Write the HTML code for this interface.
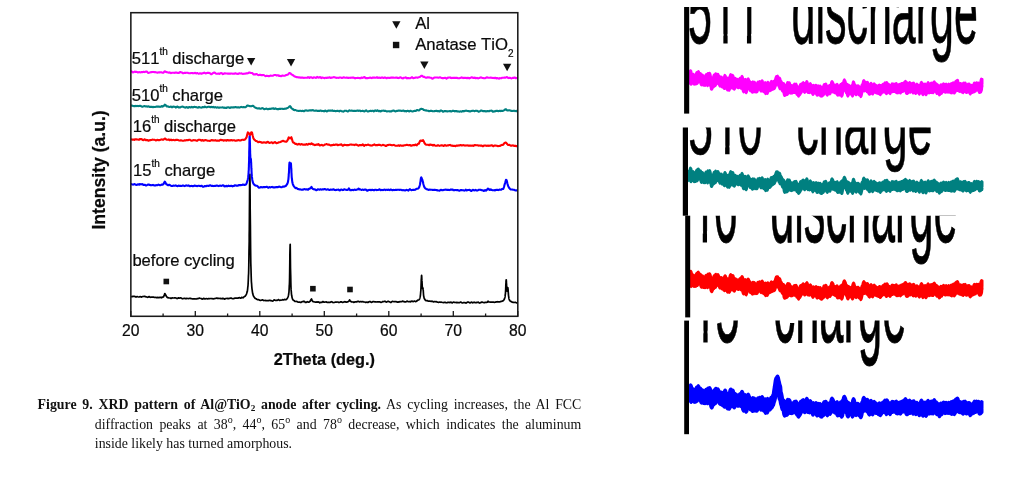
<!DOCTYPE html>
<html lang="en">
<head>
<meta charset="utf-8">
<title>Figure 9. XRD pattern of Al@TiO2 anode after cycling</title>
<style>
html,body{margin:0;padding:0;background:#fff;}
body{width:1022px;height:477px;position:relative;overflow:hidden;}
svg.chart{position:absolute;left:0;top:0;}
svg.inset{position:absolute;left:640px;top:0;}
.cap{position:absolute;left:0;top:0;margin:0;font-family:"Liberation Serif","Times New Roman",serif;font-size:13.85px;line-height:19.85px;color:#111;}
.cap span.l{position:absolute;display:block;white-space:nowrap;height:19.85px;}
.cap span.j{text-align:justify;text-align-last:justify;white-space:normal;}
.cap sup{font-size:10px;line-height:0;vertical-align:baseline;position:relative;top:-5.4px;}
.cap sub{font-size:9.2px;line-height:0;vertical-align:baseline;position:relative;top:2.2px;}
</style>
</head>
<body>
<svg class="chart" width="640" height="385" viewBox="0 0 640 385">
<clipPath id="fr"><rect x="130.85" y="12.7" width="386.94999999999993" height="303.6"/></clipPath>
<g clip-path="url(#fr)" fill="none" stroke-linejoin="round">
<path d="M130.8,296.5 L131.5,296.6 L132.2,296.6 L132.9,296.4 L133.6,296.3 L134.3,296.3 L135.0,296.5 L135.7,297.0 L136.4,296.9 L137.1,296.5 L137.8,296.8 L138.5,297.0 L139.2,296.9 L139.8,296.7 L140.5,296.7 L141.2,297.1 L141.9,296.8 L142.6,296.6 L143.3,296.5 L144.0,296.4 L144.7,296.4 L145.4,296.7 L146.1,296.8 L146.8,297.0 L147.5,297.3 L148.2,297.2 L148.8,296.7 L149.5,296.7 L150.2,297.2 L150.9,297.3 L151.6,297.1 L152.3,297.0 L153.0,297.1 L153.7,297.1 L154.4,297.5 L155.1,297.5 L155.8,297.3 L156.5,297.7 L157.2,297.6 L157.8,297.4 L158.5,297.6 L159.2,297.6 L159.9,297.3 L160.6,297.3 L161.3,297.8 L162.0,297.4 L162.7,297.1 L163.4,297.0 L164.1,295.7 L164.8,293.6 L165.5,294.5 L166.2,296.1 L166.8,296.9 L167.5,297.6 L168.2,297.7 L168.9,297.9 L169.6,298.0 L170.3,298.0 L171.0,298.4 L171.7,298.1 L172.4,297.9 L173.1,298.0 L173.8,298.0 L174.5,297.9 L175.2,297.8 L175.8,298.0 L176.5,298.3 L177.2,298.6 L177.9,298.2 L178.6,297.8 L179.3,298.2 L180.0,298.0 L180.7,297.8 L181.4,298.2 L182.1,298.6 L182.8,298.8 L183.5,298.5 L184.2,298.3 L184.8,298.3 L185.5,298.7 L186.2,298.7 L186.9,298.4 L187.6,298.5 L188.3,298.6 L189.0,298.5 L189.7,298.3 L190.4,298.4 L191.1,298.6 L191.8,298.8 L192.5,299.0 L193.1,298.8 L193.8,298.8 L194.5,298.8 L195.2,298.9 L195.9,299.0 L196.6,298.9 L197.3,298.6 L198.0,298.6 L198.7,298.5 L199.4,298.0 L200.1,298.3 L200.8,298.5 L201.5,298.6 L202.1,299.2 L202.8,299.0 L203.5,298.4 L204.2,298.6 L204.9,298.9 L205.6,298.8 L206.3,298.6 L207.0,298.8 L207.7,299.0 L208.4,298.6 L209.1,298.5 L209.8,298.7 L210.5,298.5 L211.1,298.5 L211.8,298.6 L212.5,298.7 L213.2,298.9 L213.9,298.7 L214.6,298.6 L215.3,298.5 L216.0,298.2 L216.7,298.0 L217.4,298.5 L218.1,298.3 L218.8,298.4 L219.5,298.5 L220.1,298.4 L220.8,298.6 L221.5,298.6 L222.2,298.8 L222.9,298.3 L223.6,298.5 L224.3,299.1 L225.0,298.9 L225.7,298.5 L226.4,298.5 L227.1,298.3 L227.8,298.6 L228.5,298.6 L229.1,298.4 L229.8,298.3 L230.5,298.2 L231.2,298.1 L231.9,298.5 L232.6,298.7 L233.3,298.6 L234.0,298.6 L234.7,298.2 L235.4,298.1 L236.1,298.1 L236.8,298.2 L237.5,298.2 L238.1,298.1 L238.8,297.8 L239.5,297.6 L240.2,298.2 L240.9,298.1 L241.6,297.4 L242.3,297.5 L243.0,297.8 L243.7,297.2 L244.4,296.6 L245.1,296.2 L245.8,295.2 L246.5,294.1 L247.1,292.1 L247.4,291.0 L247.5,290.2 L247.6,289.3 L247.7,288.3 L247.8,287.2 L247.8,287.1 L248.0,285.8 L248.1,284.2 L248.2,282.3 L248.3,280.0 L248.4,277.3 L248.5,274.9 L248.6,274.0 L248.7,270.0 L248.8,265.0 L248.9,258.7 L249.0,250.9 L249.2,241.2 L249.2,235.3 L249.3,229.2 L249.4,215.1 L249.5,199.8 L249.6,185.5 L249.8,175.9 L249.9,174.4 L249.9,175.7 L250.0,181.6 L250.1,194.8 L250.2,210.2 L250.4,224.9 L250.5,237.6 L250.6,248.1 L250.6,248.6 L250.7,256.5 L250.8,263.3 L251.0,268.7 L251.1,273.0 L251.2,276.6 L251.3,279.0 L251.3,279.5 L251.4,281.8 L251.6,283.8 L251.7,285.5 L251.8,286.9 L251.9,288.1 L252.0,288.8 L252.0,289.2 L252.2,290.2 L252.3,291.1 L252.7,293.6 L253.4,295.9 L254.1,297.1 L254.8,298.0 L255.4,298.5 L256.1,298.8 L256.8,299.3 L257.5,299.6 L258.2,299.6 L258.9,299.8 L259.6,300.2 L260.3,300.4 L261.0,300.3 L261.7,300.1 L262.4,299.8 L263.1,300.1 L263.8,300.6 L264.4,300.5 L265.1,300.4 L265.8,300.6 L266.5,300.7 L267.2,300.7 L267.9,300.5 L268.6,300.6 L269.3,300.4 L270.0,300.3 L270.7,300.7 L271.4,300.7 L272.1,301.0 L272.8,301.1 L273.4,300.5 L274.1,299.8 L274.8,300.2 L275.5,300.4 L276.2,300.2 L276.9,300.5 L277.6,300.2 L278.3,299.6 L279.0,300.0 L279.7,300.4 L280.4,300.2 L281.1,300.2 L281.8,300.0 L282.4,299.7 L283.1,299.8 L283.8,299.8 L284.5,299.4 L285.2,299.6 L285.9,299.7 L286.6,299.3 L287.3,298.5 L288.0,297.0 L288.1,296.6 L288.3,296.2 L288.4,295.7 L288.5,295.2 L288.6,294.5 L288.7,294.2 L288.7,293.7 L288.9,292.7 L289.0,291.5 L289.1,289.9 L289.2,287.9 L289.3,285.3 L289.4,284.6 L289.5,281.7 L289.6,276.9 L289.7,270.4 L289.8,262.1 L289.9,252.8 L290.1,245.7 L290.1,245.5 L290.2,244.3 L290.3,250.0 L290.4,259.2 L290.5,268.1 L290.7,275.3 L290.8,279.4 L290.8,280.7 L290.9,284.7 L291.0,287.7 L291.1,289.9 L291.3,291.6 L291.4,293.0 L291.4,293.6 L291.5,294.1 L291.6,295.0 L291.7,295.8 L291.9,296.5 L292.0,297.1 L292.1,297.6 L292.1,297.7 L292.8,299.7 L293.5,300.3 L294.2,300.7 L294.9,301.4 L295.6,301.5 L296.3,301.4 L297.0,301.5 L297.7,302.0 L298.4,302.2 L299.1,302.1 L299.8,302.1 L300.4,302.4 L301.1,302.4 L301.8,301.8 L302.5,301.6 L303.2,301.7 L303.9,301.2 L304.6,301.5 L305.3,302.4 L306.0,302.5 L306.7,302.0 L307.4,301.7 L308.1,302.1 L308.8,302.2 L309.4,301.8 L310.1,301.3 L310.8,300.0 L311.5,298.9 L312.2,300.7 L312.9,301.6 L313.6,301.7 L314.3,301.9 L315.0,302.0 L315.7,302.2 L316.4,302.1 L317.1,301.9 L317.7,302.2 L318.4,301.9 L319.1,302.3 L319.8,302.8 L320.5,302.4 L321.2,302.3 L321.9,302.4 L322.6,301.7 L323.3,301.7 L324.0,302.2 L324.7,302.2 L325.4,302.0 L326.1,301.9 L326.7,302.1 L327.4,302.4 L328.1,302.5 L328.8,302.2 L329.5,302.4 L330.2,302.3 L330.9,301.9 L331.6,301.7 L332.3,302.1 L333.0,302.6 L333.7,302.5 L334.4,302.4 L335.1,302.2 L335.7,302.1 L336.4,302.1 L337.1,302.0 L337.8,302.0 L338.5,302.4 L339.2,302.5 L339.9,302.2 L340.6,301.9 L341.3,301.8 L342.0,302.2 L342.7,302.5 L343.4,302.1 L344.1,302.0 L344.7,301.7 L345.4,301.8 L346.1,302.1 L346.8,302.1 L347.5,301.8 L348.2,301.7 L348.9,301.1 L349.6,299.8 L350.3,301.1 L351.0,301.6 L351.7,301.9 L352.4,302.0 L353.1,301.9 L353.7,302.4 L354.4,302.2 L355.1,301.8 L355.8,301.9 L356.5,301.9 L357.2,301.6 L357.9,301.4 L358.6,301.3 L359.3,302.0 L360.0,301.7 L360.7,301.6 L361.4,301.8 L362.1,301.7 L362.7,301.5 L363.4,302.0 L364.1,302.0 L364.8,302.0 L365.5,302.4 L366.2,302.3 L366.9,302.1 L367.6,302.4 L368.3,302.3 L369.0,301.8 L369.7,301.5 L370.4,301.6 L371.0,302.2 L371.7,302.4 L372.4,301.9 L373.1,301.5 L373.8,301.6 L374.5,301.8 L375.2,301.9 L375.9,301.9 L376.6,302.0 L377.3,301.9 L378.0,301.8 L378.7,301.9 L379.4,301.9 L380.0,301.9 L380.7,302.3 L381.4,302.3 L382.1,302.0 L382.8,301.5 L383.5,301.6 L384.2,301.5 L384.9,301.2 L385.6,301.7 L386.3,302.1 L387.0,301.9 L387.7,301.4 L388.4,301.4 L389.0,301.6 L389.7,301.8 L390.4,302.4 L391.1,302.3 L391.8,301.7 L392.5,301.4 L393.2,301.5 L393.9,301.7 L394.6,301.5 L395.3,301.6 L396.0,301.5 L396.7,301.7 L397.4,302.2 L398.0,302.2 L398.7,301.9 L399.4,301.7 L400.1,301.8 L400.8,301.6 L401.5,301.6 L402.2,301.4 L402.9,301.1 L403.6,301.6 L404.3,301.8 L405.0,301.7 L405.7,301.9 L406.4,301.5 L407.0,301.1 L407.7,301.5 L408.4,301.7 L409.1,301.6 L409.8,301.7 L410.5,301.8 L411.2,301.3 L411.9,301.1 L412.6,301.4 L413.3,301.6 L414.0,301.1 L414.7,301.2 L415.4,301.6 L416.0,301.4 L416.7,301.1 L417.4,300.5 L418.1,300.0 L418.8,299.9 L419.2,299.5 L419.3,299.4 L419.4,299.2 L419.5,299.0 L419.5,299.0 L419.7,298.6 L419.8,298.3 L419.9,297.9 L420.0,297.4 L420.1,296.8 L420.2,296.5 L420.3,296.2 L420.4,295.4 L420.5,294.5 L420.6,293.3 L420.7,291.9 L420.9,290.1 L420.9,289.6 L421.0,287.8 L421.0,287.4 L421.1,285.1 L421.1,284.7 L421.2,282.1 L421.2,281.6 L421.3,278.9 L421.4,278.5 L421.5,276.4 L421.5,276.2 L421.6,275.4 L421.6,275.4 L421.6,275.4 L421.7,276.1 L421.7,276.3 L421.8,278.2 L421.8,278.6 L421.9,280.9 L422.0,281.3 L422.1,283.5 L422.1,283.8 L422.2,285.6 L422.2,285.9 L422.3,286.9 L422.3,287.2 L422.3,287.4 L422.4,288.2 L422.4,288.3 L422.5,288.6 L422.6,288.6 L422.7,288.5 L422.7,288.5 L422.8,288.2 L422.8,288.1 L422.9,287.9 L422.9,287.9 L423.0,288.0 L423.0,288.3 L423.0,288.4 L423.1,289.4 L423.2,289.7 L423.3,291.1 L423.3,291.3 L423.4,292.8 L423.4,293.0 L423.5,294.2 L423.5,294.4 L423.6,295.5 L423.6,295.6 L423.7,295.8 L423.7,296.3 L423.8,296.5 L423.9,297.0 L423.9,297.1 L424.0,297.5 L424.0,297.6 L424.1,298.0 L424.2,298.4 L424.4,298.6 L424.4,298.6 L424.5,298.9 L424.6,299.1 L424.7,299.3 L424.8,299.5 L425.0,299.6 L425.0,299.7 L425.7,300.6 L426.4,300.5 L427.1,300.6 L427.8,300.9 L428.5,301.1 L429.2,301.2 L429.9,301.1 L430.6,301.3 L431.3,301.3 L432.0,301.2 L432.7,301.4 L433.3,301.9 L434.0,301.7 L434.7,301.6 L435.4,301.8 L436.1,301.6 L436.8,302.0 L437.5,302.1 L438.2,302.3 L438.9,302.3 L439.6,302.1 L440.3,302.3 L441.0,302.1 L441.7,302.3 L442.3,302.5 L443.0,302.5 L443.7,302.6 L444.4,302.3 L445.1,302.3 L445.8,302.6 L446.5,302.8 L447.2,302.6 L447.9,302.4 L448.6,302.3 L449.3,302.4 L450.0,302.6 L450.7,302.1 L451.3,302.3 L452.0,302.9 L452.7,302.6 L453.4,302.1 L454.1,302.3 L454.8,302.3 L455.5,302.5 L456.2,302.6 L456.9,302.4 L457.6,302.6 L458.3,302.6 L459.0,302.6 L459.7,302.6 L460.3,302.2 L461.0,302.1 L461.7,302.7 L462.4,303.0 L463.1,302.7 L463.8,302.7 L464.5,302.7 L465.2,302.7 L465.9,303.1 L466.6,302.8 L467.3,302.2 L468.0,302.2 L468.7,302.2 L469.3,302.6 L470.0,303.0 L470.7,302.6 L471.4,302.2 L472.1,302.3 L472.8,302.9 L473.5,302.4 L474.2,302.2 L474.9,302.6 L475.6,302.7 L476.3,302.7 L477.0,302.4 L477.7,302.3 L478.3,302.2 L479.0,302.7 L479.7,303.1 L480.4,302.7 L481.1,302.4 L481.8,302.1 L482.5,302.2 L483.2,302.5 L483.9,302.6 L484.6,302.6 L485.3,302.3 L486.0,302.3 L486.7,302.3 L487.3,302.2 L488.0,301.1 L488.7,301.9 L489.4,302.0 L490.1,302.1 L490.8,302.2 L491.5,302.1 L492.2,302.2 L492.9,302.1 L493.6,302.2 L494.3,302.3 L495.0,302.2 L495.6,302.1 L496.3,301.9 L497.0,301.7 L497.7,301.8 L498.4,301.8 L499.1,301.9 L499.8,301.9 L500.5,301.5 L501.2,301.4 L501.9,301.3 L502.6,300.9 L503.3,300.7 L503.8,300.0 L503.9,299.8 L504.0,299.7 L504.0,299.6 L504.2,299.4 L504.3,299.2 L504.4,299.0 L504.5,298.7 L504.6,298.3 L504.6,298.2 L504.8,297.9 L504.9,297.5 L505.0,296.9 L505.1,296.2 L505.2,295.3 L505.3,294.2 L505.4,294.1 L505.5,292.5 L505.6,290.6 L505.7,289.2 L505.7,288.3 L505.8,286.6 L505.8,285.6 L505.9,283.9 L506.0,282.9 L506.0,281.4 L506.0,281.4 L506.1,280.8 L506.1,280.0 L506.2,279.8 L506.3,280.0 L506.3,280.4 L506.4,281.4 L506.4,282.2 L506.5,283.6 L506.6,284.5 L506.6,285.9 L506.7,286.7 L506.7,287.6 L506.7,287.9 L506.8,288.5 L506.9,289.5 L506.9,289.9 L507.0,290.5 L507.0,290.8 L507.1,291.1 L507.2,291.2 L507.2,291.2 L507.3,291.1 L507.3,290.9 L507.4,290.7 L507.4,290.5 L507.5,290.1 L507.5,289.8 L507.6,289.1 L507.6,288.7 L507.7,288.2 L507.8,287.9 L507.8,287.7 L507.9,287.8 L507.9,288.2 L508.0,288.6 L508.1,289.5 L508.1,290.1 L508.1,290.1 L508.2,291.3 L508.2,291.9 L508.3,293.0 L508.4,293.6 L508.4,294.5 L508.5,295.0 L508.5,295.8 L508.6,296.1 L508.7,296.7 L508.8,297.5 L508.8,297.6 L508.9,298.2 L509.0,298.7 L509.1,299.1 L509.3,299.5 L509.4,299.8 L509.5,300.0 L509.5,300.0 L509.6,300.3 L509.7,300.5 L509.9,300.6 L510.0,300.8 L510.2,301.0 L510.9,301.4 L511.6,301.7 L512.3,302.2 L513.0,302.3 L513.6,302.3 L514.3,302.5 L515.0,302.4 L515.7,302.4 L516.4,302.9 L517.1,302.9 L517.8,302.9" stroke="#000" stroke-width="1.7"/>
<path d="M130.8,184.2 L131.5,184.1 L132.2,184.4 L132.9,184.6 L133.6,184.5 L134.3,184.1 L135.0,184.2 L135.7,184.8 L136.4,184.9 L137.1,184.8 L137.8,184.3 L138.5,184.4 L139.2,184.7 L139.8,184.0 L140.5,184.2 L141.2,184.4 L141.9,184.1 L142.6,184.3 L143.3,184.9 L144.0,184.9 L144.7,184.7 L145.4,185.2 L146.1,185.5 L146.8,185.2 L147.5,184.8 L148.2,184.6 L148.8,184.5 L149.5,184.9 L150.2,185.1 L150.9,185.1 L151.6,185.2 L152.3,185.1 L153.0,184.9 L153.7,185.2 L154.4,185.4 L155.1,185.4 L155.8,185.4 L156.5,185.1 L157.2,185.2 L157.8,185.0 L158.5,184.6 L159.2,184.9 L159.9,185.2 L160.6,185.2 L161.3,184.8 L162.0,184.5 L162.7,184.6 L163.4,184.1 L164.1,182.9 L164.8,181.6 L165.5,182.6 L166.2,184.2 L166.8,184.6 L167.5,184.8 L168.2,185.3 L168.9,184.8 L169.6,184.7 L170.3,185.4 L171.0,185.7 L171.7,185.9 L172.4,186.0 L173.1,185.8 L173.8,185.6 L174.5,185.7 L175.2,185.6 L175.8,185.4 L176.5,185.8 L177.2,186.2 L177.9,186.0 L178.6,185.6 L179.3,185.7 L180.0,186.0 L180.7,185.9 L181.4,186.0 L182.1,185.8 L182.8,185.5 L183.5,185.6 L184.2,185.9 L184.8,186.1 L185.5,185.7 L186.2,185.3 L186.9,185.7 L187.6,185.7 L188.3,185.4 L189.0,185.7 L189.7,186.2 L190.4,186.1 L191.1,185.9 L191.8,186.0 L192.5,186.1 L193.1,186.1 L193.8,186.0 L194.5,185.6 L195.2,185.8 L195.9,185.9 L196.6,186.0 L197.3,186.2 L198.0,185.8 L198.7,185.8 L199.4,185.9 L200.1,186.1 L200.8,186.0 L201.5,185.7 L202.1,186.1 L202.8,186.7 L203.5,186.8 L204.2,186.4 L204.9,186.0 L205.6,186.3 L206.3,186.2 L207.0,185.7 L207.7,185.7 L208.4,186.0 L209.1,185.8 L209.8,185.4 L210.5,185.3 L211.1,185.7 L211.8,185.9 L212.5,185.7 L213.2,185.9 L213.9,186.1 L214.6,185.9 L215.3,185.9 L216.0,185.8 L216.7,185.6 L217.4,185.6 L218.1,185.9 L218.8,186.1 L219.5,185.7 L220.1,185.6 L220.8,185.7 L221.5,185.9 L222.2,185.6 L222.9,185.3 L223.6,185.5 L224.3,186.3 L225.0,186.5 L225.7,186.0 L226.4,185.9 L227.1,186.4 L227.8,186.1 L228.5,185.6 L229.1,185.9 L229.8,186.1 L230.5,186.0 L231.2,185.7 L231.9,186.0 L232.6,186.4 L233.3,186.1 L234.0,185.9 L234.7,185.3 L235.4,185.3 L236.1,185.7 L236.8,185.6 L237.5,185.8 L238.1,185.6 L238.8,185.0 L239.5,185.1 L240.2,185.3 L240.9,185.1 L241.6,185.0 L242.3,184.9 L243.0,184.5 L243.7,184.7 L244.4,185.0 L245.1,184.7 L245.8,184.6 L246.5,183.7 L247.1,181.7 L247.4,180.8 L247.6,180.4 L247.7,179.9 L247.8,179.3 L247.8,179.2 L247.9,178.7 L248.0,178.0 L248.2,177.2 L248.3,176.2 L248.3,175.7 L248.4,175.0 L248.5,174.4 L248.5,173.5 L248.5,173.5 L248.6,172.8 L248.6,171.7 L248.7,170.8 L248.8,169.4 L248.8,168.2 L248.9,166.4 L248.9,165.0 L249.0,162.7 L249.1,160.8 L249.1,157.9 L249.2,155.6 L249.2,153.4 L249.2,152.1 L249.3,149.5 L249.4,145.7 L249.4,143.1 L249.5,139.8 L249.5,138.0 L249.6,136.3 L249.7,135.8 L249.7,136.4 L249.8,137.6 L249.8,140.0 L249.9,142.1 L249.9,142.9 L250.0,145.1 L250.0,147.3 L250.1,150.1 L250.1,151.9 L250.2,154.0 L250.3,155.3 L250.3,156.7 L250.4,157.4 L250.4,158.1 L250.5,158.4 L250.6,158.7 L250.6,158.7 L250.6,158.7 L250.7,158.7 L250.7,158.7 L250.8,158.8 L250.9,159.0 L250.9,159.5 L251.0,160.0 L251.0,161.0 L251.1,161.9 L251.2,163.4 L251.2,164.5 L251.3,166.1 L251.3,166.3 L251.3,167.2 L251.4,168.7 L251.5,169.8 L251.5,171.1 L251.6,172.1 L251.6,173.2 L251.7,174.0 L251.8,175.0 L251.8,175.6 L251.9,176.9 L252.0,177.4 L252.1,178.0 L252.2,178.9 L252.3,179.7 L252.4,180.3 L252.5,180.9 L252.7,181.4 L252.7,181.5 L252.8,181.9 L252.9,182.3 L253.0,182.7 L253.1,183.0 L253.3,183.3 L253.4,183.6 L253.4,183.6 L253.5,183.8 L254.1,184.5 L254.8,185.2 L255.4,185.6 L256.1,185.8 L256.8,185.8 L257.5,186.1 L258.2,187.0 L258.9,187.6 L259.6,187.6 L260.3,187.4 L261.0,187.0 L261.7,187.2 L262.4,187.4 L263.1,187.1 L263.8,187.0 L264.4,187.1 L265.1,187.1 L265.8,187.0 L266.5,186.9 L267.2,186.9 L267.9,187.6 L268.6,187.6 L269.3,187.1 L270.0,187.2 L270.7,187.4 L271.4,187.1 L272.1,186.9 L272.8,187.3 L273.4,187.4 L274.1,187.2 L274.8,187.5 L275.5,187.3 L276.2,187.0 L276.9,187.0 L277.6,187.3 L278.3,187.0 L279.0,186.5 L279.7,186.7 L280.4,187.0 L281.1,187.2 L281.8,187.3 L282.4,186.8 L283.1,186.6 L283.8,186.8 L284.5,186.3 L285.2,186.3 L285.9,185.9 L286.6,184.8 L286.7,184.7 L286.8,184.5 L286.9,184.4 L287.1,184.2 L287.2,184.0 L287.3,183.8 L287.3,183.8 L287.4,183.5 L287.5,183.3 L287.7,182.9 L287.8,182.5 L287.9,182.1 L288.0,181.7 L288.0,181.5 L288.1,181.0 L288.1,180.9 L288.2,180.2 L288.3,180.1 L288.4,179.3 L288.4,179.2 L288.5,178.2 L288.5,178.0 L288.6,176.9 L288.6,176.7 L288.7,176.0 L288.7,175.4 L288.7,175.1 L288.8,173.6 L288.9,173.3 L289.0,171.5 L289.0,171.1 L289.1,169.2 L289.1,168.7 L289.2,166.8 L289.2,166.4 L289.3,164.6 L289.3,164.3 L289.4,163.9 L289.4,163.1 L289.5,163.0 L289.6,162.6 L289.6,162.6 L289.7,163.1 L289.7,163.2 L289.8,164.1 L289.8,164.4 L289.9,165.4 L289.9,165.6 L290.0,166.4 L290.1,166.5 L290.1,166.5 L290.2,167.0 L290.2,167.0 L290.3,167.0 L290.3,166.9 L290.4,166.5 L290.4,166.3 L290.5,165.5 L290.5,165.3 L290.6,164.4 L290.7,164.2 L290.8,163.6 L290.8,163.5 L290.8,163.4 L290.9,163.3 L290.9,163.3 L291.0,164.0 L291.0,164.2 L291.1,165.7 L291.1,166.1 L291.2,168.0 L291.3,168.4 L291.4,170.5 L291.4,171.0 L291.4,172.3 L291.5,172.9 L291.5,173.3 L291.6,174.9 L291.6,175.3 L291.7,176.7 L291.7,176.9 L291.8,178.1 L291.9,178.3 L292.0,179.3 L292.0,179.5 L292.1,180.3 L292.1,180.4 L292.1,180.7 L292.2,181.1 L292.2,181.2 L292.3,181.8 L292.4,182.5 L292.6,183.0 L292.7,183.5 L292.8,183.9 L292.8,184.0 L292.9,184.3 L293.0,184.6 L293.2,184.9 L293.3,185.2 L293.4,185.5 L293.5,185.7 L293.5,185.7 L293.6,185.9 L294.2,186.6 L294.9,187.5 L295.6,188.1 L296.3,187.9 L297.0,188.4 L297.7,189.0 L298.4,189.1 L299.1,189.2 L299.8,189.4 L300.4,189.4 L301.1,189.6 L301.8,189.7 L302.5,189.6 L303.2,189.6 L303.9,189.2 L304.6,189.1 L305.3,189.4 L306.0,189.5 L306.7,189.2 L307.4,189.5 L308.1,189.8 L308.8,189.1 L309.4,188.6 L310.1,188.5 L310.8,187.9 L311.5,186.9 L312.2,188.2 L312.9,188.9 L313.6,189.3 L314.3,189.4 L315.0,189.4 L315.7,189.8 L316.4,190.3 L317.1,189.9 L317.7,189.3 L318.4,189.4 L319.1,189.6 L319.8,189.6 L320.5,189.3 L321.2,189.6 L321.9,189.5 L322.6,189.3 L323.3,189.4 L324.0,189.2 L324.7,189.0 L325.4,189.3 L326.1,189.7 L326.7,189.7 L327.4,189.3 L328.1,189.3 L328.8,189.8 L329.5,190.0 L330.2,189.8 L330.9,189.5 L331.6,189.7 L332.3,189.7 L333.0,189.4 L333.7,189.3 L334.4,189.9 L335.1,190.1 L335.7,190.0 L336.4,189.9 L337.1,189.8 L337.8,189.8 L338.5,189.6 L339.2,190.2 L339.9,190.4 L340.6,189.8 L341.3,189.6 L342.0,189.8 L342.7,190.1 L343.4,189.9 L344.1,189.3 L344.7,189.3 L345.4,189.7 L346.1,189.8 L346.8,190.0 L347.5,189.9 L348.2,189.5 L348.9,188.4 L349.6,189.3 L350.3,190.3 L351.0,190.3 L351.7,190.0 L352.4,189.8 L353.1,190.2 L353.7,190.0 L354.4,189.6 L355.1,189.8 L355.8,190.0 L356.5,189.8 L357.2,189.6 L357.9,189.3 L358.6,188.6 L359.3,189.5 L360.0,189.4 L360.7,189.5 L361.4,190.0 L362.1,189.8 L362.7,189.6 L363.4,189.9 L364.1,189.7 L364.8,189.6 L365.5,189.6 L366.2,189.8 L366.9,190.6 L367.6,190.7 L368.3,190.2 L369.0,189.9 L369.7,190.0 L370.4,189.9 L371.0,190.2 L371.7,189.9 L372.4,189.8 L373.1,190.1 L373.8,190.1 L374.5,190.2 L375.2,189.7 L375.9,189.8 L376.6,190.1 L377.3,190.0 L378.0,190.0 L378.7,189.8 L379.4,189.3 L380.0,189.6 L380.7,190.2 L381.4,190.0 L382.1,189.9 L382.8,190.1 L383.5,190.0 L384.2,189.6 L384.9,189.7 L385.6,190.1 L386.3,189.8 L387.0,189.8 L387.7,190.0 L388.4,189.5 L389.0,189.9 L389.7,190.1 L390.4,189.6 L391.1,189.5 L391.8,190.0 L392.5,190.3 L393.2,190.0 L393.9,189.9 L394.6,190.1 L395.3,189.9 L396.0,189.8 L396.7,190.0 L397.4,189.8 L398.0,189.7 L398.7,189.8 L399.4,189.9 L400.1,189.8 L400.8,189.7 L401.5,190.0 L402.2,190.2 L402.9,190.1 L403.6,190.3 L404.3,190.3 L405.0,190.5 L405.7,190.2 L406.4,189.9 L407.0,190.0 L407.7,190.2 L408.4,190.6 L409.1,189.8 L409.8,189.2 L410.5,189.7 L411.2,190.1 L411.9,190.1 L412.6,189.9 L413.3,189.8 L414.0,189.9 L414.7,189.7 L415.4,189.7 L416.0,189.1 L416.7,188.8 L417.4,188.8 L417.5,188.8 L417.6,188.7 L417.7,188.7 L417.8,188.6 L417.9,188.6 L418.1,188.5 L418.1,188.5 L418.2,188.4 L418.3,188.3 L418.4,188.3 L418.5,188.2 L418.7,188.1 L418.8,187.9 L418.8,187.9 L418.9,187.7 L419.0,187.5 L419.1,187.2 L419.3,186.9 L419.4,186.5 L419.5,186.1 L419.5,186.1 L419.6,185.8 L419.7,185.4 L419.9,184.9 L420.0,184.4 L420.1,183.8 L420.2,183.3 L420.2,183.1 L420.3,182.3 L420.5,181.5 L420.6,180.6 L420.7,179.6 L420.8,178.8 L420.9,178.4 L420.9,178.1 L421.1,177.6 L421.2,177.4 L421.3,177.4 L421.4,177.6 L421.5,177.9 L421.6,178.0 L421.7,178.2 L421.8,178.5 L421.9,178.8 L422.0,179.1 L422.1,179.4 L422.3,179.7 L422.3,179.7 L422.4,180.0 L422.5,180.4 L422.6,180.8 L422.7,181.3 L422.9,181.7 L423.0,182.2 L423.0,182.2 L423.1,182.8 L423.2,183.3 L423.3,183.8 L423.5,184.3 L423.6,184.8 L423.7,185.1 L423.7,185.2 L423.8,185.6 L423.9,186.0 L424.1,186.4 L424.2,186.7 L424.3,187.0 L424.4,187.1 L424.4,187.2 L424.5,187.4 L424.7,187.6 L425.0,188.0 L425.7,188.7 L426.4,189.1 L427.1,189.2 L427.8,189.5 L428.5,189.9 L429.2,189.8 L429.9,189.6 L430.6,189.7 L431.3,189.8 L432.0,189.7 L432.7,189.9 L433.3,190.0 L434.0,189.9 L434.7,189.9 L435.4,189.9 L436.1,190.1 L436.8,190.0 L437.5,190.4 L438.2,190.5 L438.9,190.5 L439.6,190.6 L440.3,190.1 L441.0,189.8 L441.7,190.1 L442.3,190.2 L443.0,190.1 L443.7,190.0 L444.4,189.7 L445.1,189.7 L445.8,189.6 L446.5,189.7 L447.2,190.0 L447.9,189.8 L448.6,189.9 L449.3,190.1 L450.0,189.9 L450.7,189.5 L451.3,189.6 L452.0,189.5 L452.7,189.5 L453.4,190.3 L454.1,190.3 L454.8,190.1 L455.5,190.0 L456.2,190.0 L456.9,190.2 L457.6,190.1 L458.3,190.3 L459.0,190.7 L459.7,190.6 L460.3,190.3 L461.0,190.0 L461.7,190.1 L462.4,190.3 L463.1,190.3 L463.8,190.4 L464.5,190.6 L465.2,190.2 L465.9,189.7 L466.6,190.4 L467.3,190.3 L468.0,190.0 L468.7,190.0 L469.3,189.9 L470.0,190.0 L470.7,190.8 L471.4,191.0 L472.1,190.3 L472.8,189.8 L473.5,190.0 L474.2,190.4 L474.9,190.3 L475.6,189.9 L476.3,190.3 L477.0,190.6 L477.7,190.4 L478.3,190.0 L479.0,189.7 L479.7,189.8 L480.4,189.7 L481.1,190.0 L481.8,190.3 L482.5,190.2 L483.2,190.7 L483.9,190.9 L484.6,190.2 L485.3,190.1 L486.0,190.6 L486.7,190.1 L487.3,189.3 L488.0,188.6 L488.7,189.0 L489.4,189.9 L490.1,189.9 L490.8,189.4 L491.5,189.9 L492.2,190.1 L492.9,190.2 L493.6,190.3 L494.3,190.2 L495.0,190.4 L495.6,189.9 L496.3,189.7 L497.0,189.9 L497.7,189.9 L498.4,190.1 L499.1,189.8 L499.8,189.5 L500.5,189.7 L501.2,189.7 L501.9,189.1 L502.6,189.0 L503.3,188.9 L504.0,187.0 L504.6,184.6 L505.3,182.3 L506.0,179.8 L506.7,180.4 L507.4,183.5 L508.1,185.9 L508.8,187.4 L509.5,188.3 L510.2,189.1 L510.9,189.5 L511.6,189.5 L512.3,189.5 L513.0,189.7 L513.6,189.8 L514.3,189.9 L515.0,190.3 L515.7,190.5 L516.4,190.4 L517.1,190.5 L517.8,190.4" stroke="#0000ff" stroke-width="2.1"/>
<path d="M130.8,139.5 L131.5,139.4 L132.2,139.6 L132.9,139.5 L133.6,139.6 L134.3,139.9 L135.0,139.4 L135.7,139.3 L136.4,139.4 L137.1,139.5 L137.8,139.5 L138.5,139.7 L139.2,139.7 L139.8,139.0 L140.5,139.1 L141.2,139.1 L141.9,139.3 L142.6,140.0 L143.3,140.1 L144.0,139.6 L144.7,139.3 L145.4,140.0 L146.1,140.3 L146.8,139.9 L147.5,140.1 L148.2,140.6 L148.8,140.7 L149.5,140.2 L150.2,140.0 L150.9,140.1 L151.6,139.9 L152.3,139.6 L153.0,139.7 L153.7,139.8 L154.4,139.8 L155.1,140.0 L155.8,140.5 L156.5,140.3 L157.2,139.8 L157.8,140.0 L158.5,140.1 L159.2,140.3 L159.9,140.1 L160.6,139.7 L161.3,139.5 L162.0,139.4 L162.7,139.7 L163.4,139.7 L164.1,139.0 L164.8,138.5 L165.5,138.8 L166.2,139.5 L166.8,139.7 L167.5,139.7 L168.2,139.6 L168.9,139.4 L169.6,140.2 L170.3,140.0 L171.0,139.6 L171.7,140.1 L172.4,140.1 L173.1,139.9 L173.8,140.0 L174.5,140.2 L175.2,140.2 L175.8,139.8 L176.5,139.8 L177.2,140.0 L177.9,139.9 L178.6,140.2 L179.3,140.4 L180.0,140.6 L180.7,140.3 L181.4,140.3 L182.1,140.7 L182.8,140.7 L183.5,140.8 L184.2,140.5 L184.8,140.2 L185.5,140.4 L186.2,140.2 L186.9,140.0 L187.6,140.2 L188.3,140.1 L189.0,139.8 L189.7,139.7 L190.4,140.1 L191.1,140.5 L191.8,140.7 L192.5,140.5 L193.1,140.2 L193.8,140.1 L194.5,140.2 L195.2,140.3 L195.9,140.4 L196.6,140.8 L197.3,140.7 L198.0,140.0 L198.7,139.8 L199.4,139.8 L200.1,139.8 L200.8,140.3 L201.5,140.6 L202.1,140.1 L202.8,140.1 L203.5,140.7 L204.2,140.5 L204.9,140.1 L205.6,140.1 L206.3,140.3 L207.0,140.5 L207.7,140.7 L208.4,140.8 L209.1,140.8 L209.8,140.9 L210.5,140.8 L211.1,140.2 L211.8,140.0 L212.5,140.4 L213.2,140.3 L213.9,140.5 L214.6,140.5 L215.3,140.1 L216.0,140.5 L216.7,140.8 L217.4,140.5 L218.1,140.6 L218.8,140.8 L219.5,140.7 L220.1,139.9 L220.8,139.7 L221.5,140.1 L222.2,140.1 L222.9,140.2 L223.6,140.7 L224.3,140.5 L225.0,140.0 L225.7,140.5 L226.4,140.7 L227.1,140.0 L227.8,140.1 L228.5,140.5 L229.1,140.3 L229.8,140.4 L230.5,140.4 L231.2,140.0 L231.9,140.2 L232.6,140.5 L233.3,140.3 L234.0,140.2 L234.7,140.3 L235.4,140.8 L236.1,140.7 L236.8,140.4 L237.5,140.5 L238.1,140.1 L238.8,140.3 L239.5,140.4 L240.2,140.5 L240.9,140.4 L241.6,139.9 L242.3,139.7 L243.0,139.8 L243.7,139.9 L244.4,139.8 L245.1,139.3 L245.8,138.5 L246.5,137.4 L247.1,135.0 L247.8,132.4 L248.5,132.7 L249.2,133.9 L249.9,134.9 L250.6,134.2 L251.3,132.2 L252.0,132.4 L252.7,135.5 L253.4,138.2 L254.1,139.4 L254.8,140.0 L255.4,140.6 L256.1,141.1 L256.8,141.3 L257.5,141.5 L258.2,142.2 L258.9,142.0 L259.6,141.8 L260.3,142.1 L261.0,142.1 L261.7,142.6 L262.4,142.5 L263.1,142.6 L263.8,142.3 L264.4,142.4 L265.1,142.6 L265.8,142.5 L266.5,142.7 L267.2,142.0 L267.9,141.8 L268.6,142.4 L269.3,142.9 L270.0,142.9 L270.7,142.6 L271.4,142.3 L272.1,142.5 L272.8,143.2 L273.4,142.9 L274.1,142.5 L274.8,142.1 L275.5,142.3 L276.2,143.2 L276.9,143.2 L277.6,142.8 L278.3,142.7 L279.0,142.2 L279.7,142.3 L280.4,142.1 L281.1,141.5 L281.8,141.4 L282.4,141.0 L283.1,140.8 L283.8,141.1 L284.5,141.5 L285.2,141.5 L285.9,141.7 L286.6,141.6 L287.3,140.7 L288.0,139.2 L288.7,137.4 L289.4,137.7 L290.1,138.5 L290.8,137.9 L291.4,137.2 L292.1,139.6 L292.8,142.0 L293.5,142.7 L294.2,142.7 L294.9,143.6 L295.6,144.0 L296.3,143.9 L297.0,144.4 L297.7,144.6 L298.4,144.0 L299.1,143.9 L299.8,144.3 L300.4,144.7 L301.1,144.3 L301.8,144.1 L302.5,144.5 L303.2,144.8 L303.9,144.6 L304.6,144.6 L305.3,144.8 L306.0,144.3 L306.7,144.1 L307.4,144.6 L308.1,144.5 L308.8,143.9 L309.4,143.8 L310.1,144.2 L310.8,144.1 L311.5,143.3 L312.2,143.9 L312.9,144.5 L313.6,144.4 L314.3,145.0 L315.0,145.1 L315.7,144.9 L316.4,144.5 L317.1,144.6 L317.7,144.7 L318.4,144.1 L319.1,144.8 L319.8,145.5 L320.5,145.3 L321.2,145.0 L321.9,144.9 L322.6,145.4 L323.3,145.5 L324.0,145.1 L324.7,144.6 L325.4,144.5 L326.1,144.3 L326.7,144.0 L327.4,144.5 L328.1,144.6 L328.8,144.6 L329.5,144.8 L330.2,145.2 L330.9,145.5 L331.6,145.1 L332.3,145.1 L333.0,145.0 L333.7,144.6 L334.4,145.0 L335.1,144.8 L335.7,144.6 L336.4,144.6 L337.1,144.6 L337.8,145.3 L338.5,145.1 L339.2,144.8 L339.9,144.8 L340.6,144.5 L341.3,144.4 L342.0,145.0 L342.7,145.7 L343.4,145.5 L344.1,144.9 L344.7,144.9 L345.4,145.0 L346.1,145.0 L346.8,145.2 L347.5,145.1 L348.2,145.1 L348.9,145.0 L349.6,144.8 L350.3,144.5 L351.0,144.5 L351.7,144.6 L352.4,144.7 L353.1,144.8 L353.7,144.8 L354.4,145.1 L355.1,144.8 L355.8,144.5 L356.5,144.6 L357.2,145.0 L357.9,145.5 L358.6,145.6 L359.3,145.1 L360.0,145.3 L360.7,145.0 L361.4,145.0 L362.1,145.2 L362.7,144.3 L363.4,145.0 L364.1,145.9 L364.8,145.2 L365.5,144.9 L366.2,145.1 L366.9,145.0 L367.6,144.8 L368.3,144.6 L369.0,145.0 L369.7,145.2 L370.4,145.4 L371.0,145.4 L371.7,145.6 L372.4,145.4 L373.1,145.0 L373.8,144.8 L374.5,144.4 L375.2,145.1 L375.9,145.2 L376.6,145.0 L377.3,145.2 L378.0,144.9 L378.7,144.8 L379.4,144.9 L380.0,144.9 L380.7,145.2 L381.4,145.4 L382.1,145.2 L382.8,144.8 L383.5,145.0 L384.2,145.2 L384.9,145.4 L385.6,145.9 L386.3,145.9 L387.0,145.3 L387.7,145.1 L388.4,145.0 L389.0,144.8 L389.7,144.8 L390.4,144.9 L391.1,145.0 L391.8,145.3 L392.5,145.3 L393.2,145.1 L393.9,144.9 L394.6,145.3 L395.3,145.7 L396.0,145.7 L396.7,145.7 L397.4,145.7 L398.0,145.5 L398.7,145.3 L399.4,145.9 L400.1,145.5 L400.8,145.2 L401.5,145.8 L402.2,145.7 L402.9,145.5 L403.6,145.6 L404.3,145.3 L405.0,145.2 L405.7,145.1 L406.4,144.9 L407.0,144.9 L407.7,145.0 L408.4,145.2 L409.1,145.3 L409.8,145.0 L410.5,145.3 L411.2,145.8 L411.9,145.5 L412.6,145.2 L413.3,145.0 L414.0,145.1 L414.7,145.2 L415.4,144.6 L416.0,144.6 L416.7,145.4 L417.4,144.6 L418.1,143.8 L418.8,143.7 L419.5,142.2 L420.2,140.7 L420.9,140.5 L421.6,140.9 L422.3,141.0 L423.0,140.1 L423.7,141.2 L424.4,142.9 L425.0,143.8 L425.7,144.5 L426.4,144.7 L427.1,144.8 L427.8,144.8 L428.5,144.9 L429.2,145.2 L429.9,144.5 L430.6,144.6 L431.3,145.0 L432.0,144.9 L432.7,145.5 L433.3,145.4 L434.0,144.8 L434.7,145.4 L435.4,145.7 L436.1,145.7 L436.8,145.8 L437.5,145.3 L438.2,145.2 L438.9,145.6 L439.6,145.9 L440.3,145.6 L441.0,145.4 L441.7,145.4 L442.3,145.3 L443.0,145.7 L443.7,145.9 L444.4,145.2 L445.1,145.1 L445.8,145.5 L446.5,145.8 L447.2,145.6 L447.9,145.3 L448.6,145.4 L449.3,145.1 L450.0,144.9 L450.7,145.4 L451.3,145.6 L452.0,145.5 L452.7,145.9 L453.4,145.9 L454.1,145.7 L454.8,146.0 L455.5,146.1 L456.2,145.6 L456.9,145.6 L457.6,145.8 L458.3,145.5 L459.0,145.4 L459.7,145.5 L460.3,145.1 L461.0,145.1 L461.7,145.5 L462.4,145.4 L463.1,145.1 L463.8,145.2 L464.5,145.5 L465.2,145.6 L465.9,145.4 L466.6,145.5 L467.3,145.5 L468.0,145.3 L468.7,145.8 L469.3,145.8 L470.0,145.4 L470.7,145.7 L471.4,145.8 L472.1,145.5 L472.8,145.6 L473.5,145.9 L474.2,145.4 L474.9,145.0 L475.6,145.3 L476.3,145.2 L477.0,145.2 L477.7,145.3 L478.3,145.6 L479.0,145.5 L479.7,145.5 L480.4,145.8 L481.1,145.6 L481.8,145.6 L482.5,146.1 L483.2,146.1 L483.9,145.6 L484.6,145.5 L485.3,145.5 L486.0,145.6 L486.7,145.9 L487.3,145.7 L488.0,145.5 L488.7,145.9 L489.4,145.8 L490.1,145.6 L490.8,145.5 L491.5,145.3 L492.2,145.4 L492.9,146.1 L493.6,146.1 L494.3,145.5 L495.0,145.5 L495.6,145.5 L496.3,145.8 L497.0,145.8 L497.7,146.1 L498.4,146.1 L499.1,145.9 L499.8,145.9 L500.5,145.7 L501.2,145.2 L501.9,144.9 L502.6,145.0 L503.3,144.6 L504.0,143.6 L504.6,143.0 L505.3,142.6 L506.0,142.5 L506.7,143.5 L507.4,144.3 L508.1,144.9 L508.8,145.0 L509.5,144.9 L510.2,145.4 L510.9,145.7 L511.6,145.6 L512.3,145.5 L513.0,145.4 L513.6,145.6 L514.3,146.0 L515.0,145.8 L515.7,145.9 L516.4,146.3 L517.1,145.9 L517.8,145.9" stroke="#ff0000" stroke-width="2.1"/>
<path d="M130.8,105.9 L131.5,105.5 L132.2,105.6 L132.9,105.9 L133.6,106.1 L134.3,106.1 L135.0,106.2 L135.7,105.9 L136.4,106.0 L137.1,106.1 L137.8,105.9 L138.5,106.1 L139.2,106.0 L139.8,105.9 L140.5,105.9 L141.2,106.2 L141.9,106.6 L142.6,106.7 L143.3,106.4 L144.0,106.1 L144.7,106.1 L145.4,106.4 L146.1,106.2 L146.8,106.4 L147.5,106.7 L148.2,106.3 L148.8,106.5 L149.5,106.9 L150.2,106.9 L150.9,106.9 L151.6,106.9 L152.3,106.9 L153.0,107.2 L153.7,106.9 L154.4,107.0 L155.1,107.0 L155.8,106.8 L156.5,106.5 L157.2,106.5 L157.8,106.8 L158.5,106.6 L159.2,106.6 L159.9,106.9 L160.6,106.8 L161.3,106.3 L162.0,106.1 L162.7,106.6 L163.4,106.2 L164.1,105.6 L164.8,104.6 L165.5,104.9 L166.2,105.9 L166.8,106.4 L167.5,106.4 L168.2,106.5 L168.9,106.9 L169.6,107.0 L170.3,106.8 L171.0,106.6 L171.7,107.3 L172.4,107.2 L173.1,106.6 L173.8,106.8 L174.5,106.7 L175.2,107.0 L175.8,107.6 L176.5,107.2 L177.2,106.5 L177.9,106.9 L178.6,107.5 L179.3,107.4 L180.0,107.5 L180.7,107.1 L181.4,106.8 L182.1,106.7 L182.8,106.5 L183.5,107.0 L184.2,107.2 L184.8,107.4 L185.5,107.6 L186.2,107.0 L186.9,107.2 L187.6,107.7 L188.3,107.6 L189.0,107.0 L189.7,107.0 L190.4,107.5 L191.1,107.3 L191.8,106.9 L192.5,107.2 L193.1,107.4 L193.8,107.0 L194.5,106.9 L195.2,107.0 L195.9,107.1 L196.6,107.3 L197.3,107.5 L198.0,107.6 L198.7,107.1 L199.4,107.0 L200.1,107.5 L200.8,107.5 L201.5,107.6 L202.1,107.4 L202.8,107.0 L203.5,107.3 L204.2,107.3 L204.9,106.6 L205.6,107.1 L206.3,107.4 L207.0,107.1 L207.7,107.0 L208.4,106.8 L209.1,106.8 L209.8,107.0 L210.5,107.3 L211.1,106.9 L211.8,107.0 L212.5,107.3 L213.2,106.9 L213.9,107.3 L214.6,107.5 L215.3,107.0 L216.0,107.5 L216.7,107.6 L217.4,107.3 L218.1,107.5 L218.8,107.8 L219.5,107.6 L220.1,107.5 L220.8,107.5 L221.5,107.5 L222.2,107.5 L222.9,107.2 L223.6,107.8 L224.3,107.9 L225.0,107.5 L225.7,108.0 L226.4,108.0 L227.1,107.4 L227.8,107.5 L228.5,107.4 L229.1,107.5 L229.8,108.0 L230.5,107.6 L231.2,107.2 L231.9,107.4 L232.6,107.5 L233.3,107.3 L234.0,107.4 L234.7,107.2 L235.4,107.0 L236.1,107.3 L236.8,107.4 L237.5,107.5 L238.1,107.3 L238.8,107.4 L239.5,107.6 L240.2,107.3 L240.9,107.1 L241.6,106.9 L242.3,107.2 L243.0,107.2 L243.7,107.0 L244.4,107.3 L245.1,107.2 L245.8,107.1 L246.5,106.4 L247.1,105.5 L247.8,105.6 L248.5,105.8 L249.2,106.0 L249.9,106.1 L250.6,106.2 L251.3,106.3 L252.0,105.9 L252.7,105.7 L253.4,106.0 L254.1,106.7 L254.8,107.3 L255.4,107.8 L256.1,107.9 L256.8,108.2 L257.5,108.4 L258.2,108.4 L258.9,108.5 L259.6,108.3 L260.3,108.8 L261.0,108.8 L261.7,108.2 L262.4,108.1 L263.1,108.4 L263.8,109.0 L264.4,109.2 L265.1,108.9 L265.8,108.7 L266.5,108.6 L267.2,109.0 L267.9,109.3 L268.6,109.0 L269.3,108.8 L270.0,109.0 L270.7,108.7 L271.4,108.6 L272.1,108.7 L272.8,108.3 L273.4,108.4 L274.1,109.0 L274.8,108.8 L275.5,108.4 L276.2,108.8 L276.9,109.1 L277.6,109.0 L278.3,109.3 L279.0,108.9 L279.7,108.8 L280.4,108.9 L281.1,108.7 L281.8,108.7 L282.4,108.7 L283.1,109.0 L283.8,109.0 L284.5,108.7 L285.2,108.6 L285.9,108.7 L286.6,108.4 L287.3,108.0 L288.0,107.8 L288.7,107.2 L289.4,106.5 L290.1,106.1 L290.8,106.9 L291.4,108.2 L292.1,108.7 L292.8,109.0 L293.5,109.8 L294.2,110.2 L294.9,109.9 L295.6,110.1 L296.3,110.4 L297.0,110.7 L297.7,110.8 L298.4,111.0 L299.1,110.9 L299.8,110.7 L300.4,110.7 L301.1,110.9 L301.8,111.1 L302.5,110.7 L303.2,111.0 L303.9,111.3 L304.6,110.8 L305.3,110.5 L306.0,110.4 L306.7,110.5 L307.4,110.8 L308.1,110.7 L308.8,110.5 L309.4,110.4 L310.1,110.2 L310.8,110.2 L311.5,110.5 L312.2,110.2 L312.9,110.1 L313.6,110.6 L314.3,110.8 L315.0,110.7 L315.7,110.6 L316.4,110.6 L317.1,110.8 L317.7,111.0 L318.4,110.9 L319.1,110.9 L319.8,110.9 L320.5,110.5 L321.2,110.7 L321.9,111.1 L322.6,110.9 L323.3,111.1 L324.0,111.4 L324.7,110.9 L325.4,110.5 L326.1,111.1 L326.7,111.5 L327.4,111.1 L328.1,110.5 L328.8,110.5 L329.5,110.7 L330.2,110.5 L330.9,110.6 L331.6,110.7 L332.3,110.4 L333.0,110.9 L333.7,111.0 L334.4,110.8 L335.1,111.0 L335.7,111.2 L336.4,111.0 L337.1,110.9 L337.8,110.8 L338.5,111.1 L339.2,111.4 L339.9,110.8 L340.6,110.7 L341.3,111.1 L342.0,111.2 L342.7,111.4 L343.4,111.6 L344.1,111.1 L344.7,110.8 L345.4,110.7 L346.1,110.7 L346.8,111.0 L347.5,111.5 L348.2,111.5 L348.9,110.5 L349.6,110.4 L350.3,110.8 L351.0,110.7 L351.7,110.5 L352.4,110.7 L353.1,110.9 L353.7,111.0 L354.4,110.7 L355.1,110.9 L355.8,111.0 L356.5,110.7 L357.2,110.6 L357.9,110.5 L358.6,110.9 L359.3,110.8 L360.0,110.6 L360.7,111.1 L361.4,111.0 L362.1,110.9 L362.7,110.8 L363.4,111.0 L364.1,111.5 L364.8,111.2 L365.5,110.6 L366.2,110.4 L366.9,111.0 L367.6,111.5 L368.3,111.4 L369.0,111.3 L369.7,111.1 L370.4,110.8 L371.0,110.9 L371.7,111.1 L372.4,110.7 L373.1,110.8 L373.8,111.4 L374.5,111.0 L375.2,110.4 L375.9,110.8 L376.6,110.9 L377.3,110.3 L378.0,110.6 L378.7,111.2 L379.4,110.9 L380.0,111.3 L380.7,111.5 L381.4,110.9 L382.1,110.8 L382.8,110.8 L383.5,110.6 L384.2,110.9 L384.9,110.9 L385.6,110.8 L386.3,111.2 L387.0,111.5 L387.7,111.3 L388.4,111.3 L389.0,111.2 L389.7,111.4 L390.4,111.3 L391.1,111.4 L391.8,111.2 L392.5,110.7 L393.2,110.6 L393.9,110.6 L394.6,111.0 L395.3,111.4 L396.0,111.2 L396.7,110.9 L397.4,110.9 L398.0,110.8 L398.7,110.6 L399.4,110.8 L400.1,110.6 L400.8,110.7 L401.5,111.0 L402.2,110.9 L402.9,110.6 L403.6,110.5 L404.3,111.1 L405.0,111.1 L405.7,111.0 L406.4,111.4 L407.0,111.0 L407.7,110.7 L408.4,110.9 L409.1,111.5 L409.8,111.1 L410.5,110.7 L411.2,111.1 L411.9,111.2 L412.6,111.4 L413.3,111.2 L414.0,110.9 L414.7,110.7 L415.4,111.0 L416.0,111.0 L416.7,110.0 L417.4,110.0 L418.1,110.3 L418.8,110.5 L419.5,110.1 L420.2,109.2 L420.9,108.9 L421.6,108.9 L422.3,109.0 L423.0,109.3 L423.7,109.9 L424.4,110.1 L425.0,110.2 L425.7,110.5 L426.4,110.4 L427.1,110.8 L427.8,110.8 L428.5,110.8 L429.2,111.3 L429.9,111.1 L430.6,110.8 L431.3,110.8 L432.0,111.0 L432.7,111.3 L433.3,111.2 L434.0,111.3 L434.7,111.1 L435.4,111.0 L436.1,110.8 L436.8,110.9 L437.5,111.3 L438.2,111.0 L438.9,111.2 L439.6,111.5 L440.3,110.6 L441.0,110.5 L441.7,110.8 L442.3,111.0 L443.0,111.8 L443.7,111.5 L444.4,111.0 L445.1,111.1 L445.8,111.1 L446.5,111.3 L447.2,111.5 L447.9,111.2 L448.6,111.2 L449.3,111.3 L450.0,111.0 L450.7,111.4 L451.3,111.5 L452.0,111.1 L452.7,110.8 L453.4,110.9 L454.1,111.0 L454.8,111.4 L455.5,111.1 L456.2,111.0 L456.9,111.4 L457.6,111.4 L458.3,111.4 L459.0,111.6 L459.7,111.6 L460.3,111.4 L461.0,111.5 L461.7,111.6 L462.4,111.1 L463.1,111.0 L463.8,111.4 L464.5,111.0 L465.2,110.9 L465.9,110.6 L466.6,110.7 L467.3,110.9 L468.0,111.1 L468.7,111.0 L469.3,111.2 L470.0,111.5 L470.7,111.2 L471.4,111.0 L472.1,110.9 L472.8,110.8 L473.5,110.8 L474.2,111.1 L474.9,111.1 L475.6,110.8 L476.3,110.8 L477.0,110.9 L477.7,111.0 L478.3,111.6 L479.0,111.7 L479.7,111.3 L480.4,110.8 L481.1,110.6 L481.8,110.5 L482.5,111.0 L483.2,111.2 L483.9,111.0 L484.6,111.1 L485.3,111.1 L486.0,111.5 L486.7,111.3 L487.3,111.0 L488.0,111.0 L488.7,111.2 L489.4,111.2 L490.1,110.7 L490.8,110.7 L491.5,110.6 L492.2,111.0 L492.9,111.8 L493.6,111.5 L494.3,111.2 L495.0,111.4 L495.6,111.0 L496.3,110.8 L497.0,111.0 L497.7,110.9 L498.4,111.3 L499.1,111.1 L499.8,110.7 L500.5,111.1 L501.2,110.8 L501.9,110.7 L502.6,110.9 L503.3,110.7 L504.0,110.3 L504.6,110.1 L505.3,109.2 L506.0,109.2 L506.7,110.2 L507.4,110.4 L508.1,110.5 L508.8,110.3 L509.5,110.3 L510.2,110.6 L510.9,110.6 L511.6,111.0 L512.3,111.0 L513.0,110.9 L513.6,110.7 L514.3,110.7 L515.0,111.1 L515.7,111.0 L516.4,110.9 L517.1,111.4 L517.8,111.4" stroke="#008080" stroke-width="2.1"/>
<path d="M130.8,71.5 L131.5,71.3 L132.2,71.8 L132.9,72.4 L133.6,72.3 L134.3,71.7 L135.0,71.6 L135.7,72.0 L136.4,71.9 L137.1,72.0 L137.8,72.5 L138.5,72.2 L139.2,72.1 L139.8,72.2 L140.5,72.4 L141.2,72.1 L141.9,72.0 L142.6,72.2 L143.3,71.8 L144.0,71.9 L144.7,72.1 L145.4,71.8 L146.1,71.6 L146.8,71.6 L147.5,72.3 L148.2,72.9 L148.8,72.7 L149.5,72.6 L150.2,72.4 L150.9,72.1 L151.6,72.3 L152.3,72.1 L153.0,71.9 L153.7,72.1 L154.4,72.3 L155.1,72.1 L155.8,72.2 L156.5,72.4 L157.2,72.6 L157.8,72.6 L158.5,72.4 L159.2,72.4 L159.9,72.4 L160.6,72.3 L161.3,72.2 L162.0,72.5 L162.7,72.7 L163.4,72.7 L164.1,71.9 L164.8,71.3 L165.5,71.6 L166.2,72.1 L166.8,72.3 L167.5,72.3 L168.2,72.6 L168.9,72.8 L169.6,72.4 L170.3,72.7 L171.0,73.2 L171.7,72.8 L172.4,72.8 L173.1,72.7 L173.8,72.8 L174.5,72.9 L175.2,72.6 L175.8,72.5 L176.5,72.6 L177.2,72.7 L177.9,72.9 L178.6,72.9 L179.3,72.7 L180.0,72.0 L180.7,72.1 L181.4,72.5 L182.1,72.5 L182.8,73.2 L183.5,73.2 L184.2,72.9 L184.8,72.8 L185.5,72.9 L186.2,72.8 L186.9,72.7 L187.6,72.7 L188.3,73.0 L189.0,73.2 L189.7,73.2 L190.4,73.2 L191.1,73.0 L191.8,73.0 L192.5,73.1 L193.1,73.3 L193.8,73.3 L194.5,73.0 L195.2,72.8 L195.9,73.3 L196.6,73.4 L197.3,73.0 L198.0,73.4 L198.7,73.7 L199.4,73.5 L200.1,73.2 L200.8,73.6 L201.5,73.8 L202.1,73.4 L202.8,73.3 L203.5,72.9 L204.2,72.6 L204.9,73.0 L205.6,73.4 L206.3,73.3 L207.0,73.0 L207.7,72.7 L208.4,72.9 L209.1,72.9 L209.8,73.2 L210.5,73.7 L211.1,74.2 L211.8,74.1 L212.5,73.4 L213.2,73.0 L213.9,72.5 L214.6,72.5 L215.3,73.2 L216.0,73.6 L216.7,73.7 L217.4,73.7 L218.1,73.6 L218.8,73.6 L219.5,73.9 L220.1,73.5 L220.8,73.1 L221.5,73.1 L222.2,73.5 L222.9,74.1 L223.6,73.9 L224.3,73.4 L225.0,73.3 L225.7,73.5 L226.4,73.5 L227.1,73.5 L227.8,73.6 L228.5,73.6 L229.1,73.6 L229.8,73.8 L230.5,73.6 L231.2,73.5 L231.9,73.5 L232.6,73.7 L233.3,73.7 L234.0,73.6 L234.7,73.6 L235.4,73.3 L236.1,73.6 L236.8,73.7 L237.5,73.7 L238.1,74.0 L238.8,73.5 L239.5,73.3 L240.2,73.5 L240.9,73.5 L241.6,73.4 L242.3,73.7 L243.0,73.9 L243.7,73.8 L244.4,73.7 L245.1,73.6 L245.8,73.5 L246.5,73.3 L247.1,73.4 L247.8,73.3 L248.5,72.9 L249.2,72.5 L249.9,72.6 L250.6,72.9 L251.3,73.0 L252.0,73.0 L252.7,73.4 L253.4,74.4 L254.1,74.4 L254.8,74.2 L255.4,74.5 L256.1,74.0 L256.8,74.1 L257.5,74.6 L258.2,75.0 L258.9,75.1 L259.6,74.8 L260.3,74.8 L261.0,75.1 L261.7,75.1 L262.4,75.1 L263.1,75.0 L263.8,75.0 L264.4,75.5 L265.1,76.0 L265.8,76.1 L266.5,75.7 L267.2,75.9 L267.9,76.0 L268.6,76.1 L269.3,76.2 L270.0,75.8 L270.7,75.6 L271.4,75.7 L272.1,75.7 L272.8,75.7 L273.4,75.5 L274.1,75.0 L274.8,75.0 L275.5,75.0 L276.2,75.2 L276.9,75.6 L277.6,75.2 L278.3,75.3 L279.0,75.9 L279.7,75.7 L280.4,75.9 L281.1,76.3 L281.8,75.7 L282.4,75.5 L283.1,75.8 L283.8,75.7 L284.5,75.8 L285.2,75.5 L285.9,75.1 L286.6,75.0 L287.3,74.7 L288.0,74.5 L288.7,73.8 L289.4,73.0 L290.1,73.2 L290.8,73.7 L291.4,74.4 L292.1,74.7 L292.8,75.0 L293.5,75.7 L294.2,76.2 L294.9,76.5 L295.6,76.8 L296.3,77.1 L297.0,77.1 L297.7,77.2 L298.4,77.4 L299.1,77.4 L299.8,77.5 L300.4,77.8 L301.1,77.6 L301.8,77.5 L302.5,77.6 L303.2,77.8 L303.9,77.9 L304.6,77.8 L305.3,77.8 L306.0,77.8 L306.7,77.8 L307.4,77.8 L308.1,77.1 L308.8,77.4 L309.4,77.9 L310.1,77.4 L310.8,77.3 L311.5,77.4 L312.2,77.8 L312.9,78.1 L313.6,77.4 L314.3,77.4 L315.0,77.6 L315.7,77.9 L316.4,77.8 L317.1,76.9 L317.7,77.2 L318.4,77.6 L319.1,77.5 L319.8,77.1 L320.5,77.3 L321.2,78.1 L321.9,77.6 L322.6,77.5 L323.3,77.8 L324.0,78.0 L324.7,78.2 L325.4,77.7 L326.1,77.8 L326.7,78.0 L327.4,77.6 L328.1,77.7 L328.8,77.7 L329.5,77.2 L330.2,77.7 L330.9,78.0 L331.6,77.5 L332.3,77.6 L333.0,77.4 L333.7,77.1 L334.4,77.3 L335.1,77.5 L335.7,77.6 L336.4,77.9 L337.1,77.8 L337.8,77.7 L338.5,77.9 L339.2,77.6 L339.9,77.5 L340.6,77.5 L341.3,77.7 L342.0,78.0 L342.7,77.8 L343.4,77.4 L344.1,77.4 L344.7,77.6 L345.4,77.7 L346.1,77.8 L346.8,77.5 L347.5,77.7 L348.2,78.0 L348.9,77.7 L349.6,77.8 L350.3,77.9 L351.0,77.6 L351.7,77.7 L352.4,77.6 L353.1,77.5 L353.7,77.6 L354.4,78.0 L355.1,78.4 L355.8,78.0 L356.5,78.0 L357.2,78.0 L357.9,77.8 L358.6,78.0 L359.3,78.0 L360.0,78.3 L360.7,78.3 L361.4,77.5 L362.1,77.8 L362.7,77.9 L363.4,77.6 L364.1,77.0 L364.8,77.3 L365.5,78.1 L366.2,78.1 L366.9,78.1 L367.6,78.3 L368.3,78.1 L369.0,77.9 L369.7,77.8 L370.4,77.5 L371.0,77.9 L371.7,78.1 L372.4,77.6 L373.1,77.6 L373.8,77.8 L374.5,77.5 L375.2,77.7 L375.9,77.8 L376.6,77.3 L377.3,77.2 L378.0,77.9 L378.7,77.8 L379.4,77.5 L380.0,77.9 L380.7,78.0 L381.4,77.6 L382.1,77.4 L382.8,77.7 L383.5,78.0 L384.2,77.8 L384.9,77.4 L385.6,77.7 L386.3,78.2 L387.0,78.1 L387.7,77.7 L388.4,77.7 L389.0,77.9 L389.7,78.0 L390.4,77.7 L391.1,77.5 L391.8,77.8 L392.5,77.5 L393.2,77.6 L393.9,77.8 L394.6,77.7 L395.3,77.8 L396.0,77.6 L396.7,77.5 L397.4,77.9 L398.0,77.9 L398.7,78.1 L399.4,77.8 L400.1,77.2 L400.8,77.5 L401.5,77.9 L402.2,78.3 L402.9,78.4 L403.6,77.7 L404.3,77.8 L405.0,77.8 L405.7,77.3 L406.4,78.0 L407.0,78.4 L407.7,78.0 L408.4,78.0 L409.1,78.3 L409.8,78.2 L410.5,78.1 L411.2,77.8 L411.9,77.2 L412.6,77.7 L413.3,78.3 L414.0,78.1 L414.7,77.8 L415.4,77.7 L416.0,77.4 L416.7,77.6 L417.4,77.8 L418.1,77.4 L418.8,77.2 L419.5,77.0 L420.2,76.7 L420.9,76.2 L421.6,75.7 L422.3,75.7 L423.0,76.8 L423.7,76.9 L424.4,76.8 L425.0,77.3 L425.7,77.7 L426.4,77.8 L427.1,77.3 L427.8,77.4 L428.5,77.5 L429.2,77.3 L429.9,77.7 L430.6,77.8 L431.3,77.9 L432.0,78.6 L432.7,78.6 L433.3,78.1 L434.0,77.8 L434.7,77.5 L435.4,77.5 L436.1,77.5 L436.8,77.5 L437.5,77.5 L438.2,77.7 L438.9,77.6 L439.6,77.4 L440.3,77.3 L441.0,77.7 L441.7,78.0 L442.3,78.1 L443.0,78.3 L443.7,78.0 L444.4,78.0 L445.1,77.7 L445.8,78.1 L446.5,78.6 L447.2,78.1 L447.9,77.6 L448.6,77.8 L449.3,77.6 L450.0,77.4 L450.7,77.9 L451.3,78.1 L452.0,77.8 L452.7,78.0 L453.4,77.9 L454.1,77.8 L454.8,77.9 L455.5,77.7 L456.2,77.9 L456.9,77.8 L457.6,78.1 L458.3,78.2 L459.0,78.2 L459.7,78.1 L460.3,77.9 L461.0,77.8 L461.7,77.4 L462.4,77.7 L463.1,78.1 L463.8,77.8 L464.5,77.9 L465.2,78.0 L465.9,77.8 L466.6,78.1 L467.3,78.2 L468.0,77.7 L468.7,77.9 L469.3,78.4 L470.0,78.0 L470.7,77.7 L471.4,77.4 L472.1,77.3 L472.8,77.8 L473.5,78.0 L474.2,77.7 L474.9,77.6 L475.6,78.2 L476.3,78.2 L477.0,77.8 L477.7,78.2 L478.3,78.4 L479.0,78.1 L479.7,77.9 L480.4,77.5 L481.1,77.4 L481.8,77.7 L482.5,77.9 L483.2,78.0 L483.9,78.2 L484.6,78.2 L485.3,78.1 L486.0,77.8 L486.7,77.3 L487.3,77.4 L488.0,77.7 L488.7,77.7 L489.4,77.8 L490.1,77.7 L490.8,77.5 L491.5,77.8 L492.2,78.0 L492.9,77.9 L493.6,78.0 L494.3,78.1 L495.0,77.7 L495.6,77.8 L496.3,78.4 L497.0,78.2 L497.7,78.1 L498.4,78.5 L499.1,78.6 L499.8,78.1 L500.5,78.2 L501.2,78.3 L501.9,77.8 L502.6,77.7 L503.3,77.8 L504.0,77.8 L504.6,77.5 L505.3,77.7 L506.0,77.5 L506.7,77.0 L507.4,77.4 L508.1,77.9 L508.8,78.1 L509.5,77.8 L510.2,77.8 L510.9,78.2 L511.6,78.4 L512.3,78.1 L513.0,77.8 L513.6,78.0 L514.3,77.6 L515.0,77.5 L515.7,78.1 L516.4,78.2 L517.1,77.8 L517.8,78.1" stroke="#ff00ff" stroke-width="2.1"/>
</g>
<rect x="130.85" y="12.7" width="386.94999999999993" height="303.6" fill="none" stroke="#1a1a1a" stroke-width="1.55"/>
<path d="M130.8,316.3 v-5.3 M163.1,316.3 v-2.8 M195.3,316.3 v-5.3 M227.6,316.3 v-2.8 M259.8,316.3 v-5.3 M292.1,316.3 v-2.8 M324.3,316.3 v-5.3 M356.6,316.3 v-2.8 M388.8,316.3 v-5.3 M421.1,316.3 v-2.8 M453.3,316.3 v-5.3 M485.6,316.3 v-2.8 M517.8,316.3 v-5.3" stroke="#1a1a1a" stroke-width="1.3" fill="none"/>
<g font-family="'Liberation Sans', Arial, sans-serif" fill="#0a0a0a" stroke="#0a0a0a" stroke-width="0.22" style="font-kerning:none">
<text x="130.8" y="335.6" font-size="15.7" text-anchor="middle">20</text>
<text x="195.3" y="335.6" font-size="15.7" text-anchor="middle">30</text>
<text x="259.8" y="335.6" font-size="15.7" text-anchor="middle">40</text>
<text x="324.3" y="335.6" font-size="15.7" text-anchor="middle">50</text>
<text x="388.8" y="335.6" font-size="15.7" text-anchor="middle">60</text>
<text x="453.3" y="335.6" font-size="15.7" text-anchor="middle">70</text>
<text x="517.8" y="335.6" font-size="15.7" text-anchor="middle">80</text>
<text x="324.3" y="364.5" font-size="16.3" font-weight="bold" text-anchor="middle">2Theta (deg.)</text>
<text transform="translate(105.3,169.9) rotate(-90)" font-size="17.6" font-weight="bold" text-anchor="middle">Intensity (a.u.)</text>
<text x="131.7" y="64.4" font-size="16.6">511<tspan font-size="10" dy="-9.1">th</tspan><tspan dy="9.1"> discharge</tspan></text>
<text x="131.7" y="100.6" font-size="16.6">510<tspan font-size="10" dy="-9.1">th</tspan><tspan dy="9.1"> charge</tspan></text>
<text x="132.7" y="132.0" font-size="16.6">16<tspan font-size="10" dy="-9.1">th</tspan><tspan dy="9.1"> discharge</tspan></text>
<text x="133.0" y="176.2" font-size="16.6">15<tspan font-size="10" dy="-9.1">th</tspan><tspan dy="9.1"> charge</tspan></text>
<text x="132.4" y="265.7" font-size="16.6">before cycling</text>
<text x="415.2" y="28.8" font-size="16.7">Al</text>
<text x="415.2" y="49.6" font-size="16.7">Anatase TiO<tspan font-size="10" dy="7.3">2</tspan></text>
</g>
<path d="M392.2,21.2 h8.3 l-4.15,7.6 z" fill="#111"/>
<rect x="392.9" y="41.8" width="6.4" height="6.4" fill="#111"/>
<path d="M247.0,57.9 h8.3 l-4.15,7.6 z" fill="#111"/>
<path d="M286.9,58.9 h8.3 l-4.15,7.6 z" fill="#111"/>
<path d="M420.2,61.4 h8.3 l-4.15,7.6 z" fill="#111"/>
<path d="M503.0,63.7 h8.3 l-4.15,7.6 z" fill="#111"/>
<rect x="163.5" y="278.7" width="5.6" height="5.6" fill="#111"/>
<rect x="310.1" y="285.9" width="5.6" height="5.6" fill="#111"/>
<rect x="347.2" y="286.7" width="5.6" height="5.6" fill="#111"/>
</svg>
<svg class="inset" width="382" height="477" viewBox="640 0 382 477">
<clipPath id="bc"><rect x="686.4" y="0" width="297.1" height="477"/></clipPath>
<clipPath id="c1"><rect x="640" y="7.0" width="382" height="106.6"/></clipPath>
<g clip-path="url(#c1)"><g><text transform="translate(0,43.0) scale(1,2.17)" font-family="'Liberation Sans', Arial, sans-serif" font-size="43.0" fill="#000" stroke="#000" stroke-width="0.35" style="font-kerning:none"><tspan x="688.00 712.85 736.45">511</tspan><tspan x="760.4" font-size="25.8" dy="-23.7">th</tspan><tspan x="779.546" dy="23.7"> discharge</tspan></text></g>
<rect x="714.88" y="33.9" width="8.47" height="13.1" fill="#fff"/>
<rect x="727.61" y="33.9" width="8.11" height="13.1" fill="#fff"/>
<rect x="738.48" y="33.9" width="8.47" height="13.1" fill="#fff"/>
<rect x="751.21" y="33.9" width="8.11" height="13.1" fill="#fff"/>
</g>
<g clip-path="url(#bc)"><path transform="translate(686.0,78.0) scale(2.57,5.5)" d="M0.0,0.05 L0.2,0.53 L0.4,0.51 L0.6,-0.11 L0.8,-0.08 L1.0,-0.16 L1.2,0.31 L1.4,0.04 L1.6,0.27 L1.8,-0.74 L2.0,0.57 L2.2,-0.13 L2.4,0.20 L2.6,0.01 L2.8,-0.12 L3.0,0.32 L3.2,0.57 L3.4,0.13 L3.6,0.10 L3.8,0.53 L4.0,-0.17 L4.2,-0.41 L4.4,0.40 L4.6,-0.09 L4.8,-0.60 L5.0,-0.03 L5.2,0.07 L5.4,-0.17 L5.6,-0.23 L5.8,0.35 L6.0,0.69 L6.2,0.28 L6.4,0.03 L6.6,0.56 L6.8,0.75 L7.0,0.33 L7.2,0.63 L7.4,0.78 L7.6,0.27 L7.8,-0.04 L8.0,0.42 L8.2,0.40 L8.4,0.81 L8.6,-0.24 L8.8,0.12 L9.0,0.02 L9.2,-0.29 L9.4,0.53 L9.6,0.89 L9.8,0.44 L10.0,1.47 L10.2,1.27 L10.4,1.11 L10.6,0.85 L10.8,1.00 L11.0,0.05 L11.2,0.81 L11.4,0.81 L11.6,-0.19 L11.8,0.56 L12.0,0.15 L12.2,0.39 L12.4,-0.12 L12.6,0.13 L12.8,0.51 L13.0,0.28 L13.2,0.90 L13.4,0.54 L13.6,0.77 L13.8,0.38 L14.0,1.04 L14.2,0.95 L14.4,0.76 L14.6,1.12 L14.8,1.29 L15.0,1.34 L15.2,0.09 L15.4,1.01 L15.6,0.84 L15.8,0.80 L16.0,0.59 L16.2,1.60 L16.4,0.85 L16.6,1.58 L16.8,1.66 L17.0,0.44 L17.2,0.58 L17.4,-0.07 L17.6,0.34 L17.8,0.91 L18.0,1.27 L18.2,0.10 L18.4,0.63 L18.6,1.21 L18.8,1.47 L19.0,1.05 L19.2,0.64 L19.4,1.08 L19.6,0.93 L19.8,0.99 L20.0,0.81 L20.2,1.20 L20.4,1.21 L20.6,1.17 L20.8,1.06 L21.0,0.63 L21.2,0.86 L21.4,1.27 L21.6,0.63 L21.8,0.28 L22.0,1.42 L22.2,1.28 L22.4,1.95 L22.6,1.30 L22.8,1.12 L23.0,0.81 L23.2,1.74 L23.4,2.12 L23.6,0.96 L23.8,0.87 L24.0,1.13 L24.2,0.72 L24.4,1.03 L24.6,1.06 L24.8,1.38 L25.0,1.74 L25.2,1.37 L25.4,1.82 L25.6,1.62 L25.8,2.02 L26.0,1.28 L26.2,1.38 L26.4,1.95 L26.6,1.33 L26.8,1.64 L27.0,1.70 L27.2,1.95 L27.4,1.81 L27.6,1.95 L27.8,1.61 L28.0,1.32 L28.2,1.35 L28.4,1.41 L28.6,1.20 L28.8,1.41 L29.0,1.65 L29.2,1.79 L29.4,1.56 L29.6,1.08 L29.8,1.67 L30.0,1.71 L30.2,1.93 L30.4,1.88 L30.6,1.49 L30.8,1.41 L31.0,2.27 L31.2,1.90 L31.4,2.17 L31.6,2.21 L31.8,1.34 L32.0,1.73 L32.2,1.73 L32.4,1.76 L32.6,1.75 L32.8,1.68 L33.0,1.65 L33.2,1.18 L33.4,1.53 L33.6,1.30 L33.8,1.49 L34.0,1.22 L34.2,1.39 L34.4,1.32 L34.6,1.03 L34.8,0.87 L35.0,0.63 L35.2,0.30 L35.4,0.37 L35.6,0.26 L35.8,0.56 L36.0,0.60 L36.2,0.99 L36.4,0.58 L36.6,1.39 L36.8,1.07 L37.0,1.19 L37.2,1.50 L37.4,1.46 L37.6,1.84 L37.8,1.68 L38.0,1.60 L38.2,1.78 L38.4,2.62 L38.6,2.49 L38.8,2.29 L39.0,2.49 L39.2,1.78 L39.4,2.43 L39.6,1.39 L39.8,1.86 L40.0,1.91 L40.2,1.43 L40.4,1.87 L40.6,2.17 L40.8,2.06 L41.0,1.95 L41.2,2.19 L41.4,2.10 L41.6,2.02 L41.8,1.88 L42.0,2.08 L42.2,1.68 L42.4,2.07 L42.6,1.76 L42.8,1.67 L43.0,2.12 L43.2,2.42 L43.4,2.37 L43.6,2.19 L43.8,2.74 L44.0,2.50 L44.2,2.52 L44.4,2.37 L44.6,1.70 L44.8,2.09 L45.0,1.72 L45.2,1.71 L45.4,1.49 L45.6,1.42 L45.8,1.59 L46.0,1.94 L46.2,2.06 L46.4,1.52 L46.6,1.69 L46.8,1.47 L47.0,1.22 L47.2,1.90 L47.4,2.03 L47.6,1.79 L47.8,1.94 L48.0,2.09 L48.2,1.72 L48.4,1.59 L48.6,2.02 L48.8,2.05 L49.0,1.96 L49.2,2.25 L49.4,2.44 L49.6,1.90 L49.8,2.13 L50.0,2.14 L50.2,2.11 L50.4,2.22 L50.6,1.89 L50.8,2.20 L51.0,2.56 L51.2,2.35 L51.4,1.98 L51.6,2.29 L51.8,2.50 L52.0,2.29 L52.2,2.04 L52.4,2.69 L52.6,2.22 L52.8,2.74 L53.0,2.64 L53.2,2.22 L53.4,2.54 L53.6,2.18 L53.8,1.74 L54.0,2.10 L54.2,1.91 L54.4,1.67 L54.6,2.08 L54.8,2.44 L55.0,2.53 L55.2,2.30 L55.4,2.10 L55.6,2.13 L55.8,1.93 L56.0,2.31 L56.2,1.98 L56.4,1.93 L56.6,1.77 L56.8,1.21 L57.0,1.30 L57.2,1.96 L57.4,1.88 L57.6,1.87 L57.8,2.09 L58.0,1.86 L58.2,2.15 L58.4,1.88 L58.6,2.13 L58.8,1.73 L59.0,2.56 L59.2,2.21 L59.4,2.12 L59.6,2.50 L59.8,2.30 L60.0,2.25 L60.2,1.76 L60.4,2.07 L60.6,2.75 L60.8,1.57 L61.0,1.90 L61.2,1.70 L61.4,1.60 L61.6,0.92 L61.8,1.06 L62.0,1.54 L62.2,1.56 L62.4,2.15 L62.6,1.69 L62.8,1.94 L63.0,2.72 L63.2,1.86 L63.4,1.92 L63.6,2.20 L63.8,2.18 L64.0,2.34 L64.2,2.29 L64.4,1.99 L64.6,2.16 L64.8,2.72 L65.0,2.33 L65.2,1.28 L65.4,1.91 L65.6,1.76 L65.8,2.13 L66.0,1.95 L66.2,2.48 L66.4,2.21 L66.6,2.22 L66.8,1.99 L67.0,2.00 L67.2,2.10 L67.4,2.53 L67.6,2.52 L67.8,2.47 L68.0,2.81 L68.2,2.39 L68.4,2.11 L68.6,1.75 L68.8,1.72 L69.0,1.67 L69.2,1.05 L69.4,1.78 L69.6,1.51 L69.8,1.31 L70.0,1.72 L70.2,1.77 L70.4,1.92 L70.6,1.36 L70.8,1.91 L71.0,2.03 L71.2,2.30 L71.4,2.39 L71.6,2.27 L71.8,1.69 L72.0,1.52 L72.2,2.18 L72.4,2.09 L72.6,2.35 L72.8,2.00 L73.0,2.04 L73.2,1.63 L73.4,2.03 L73.6,1.79 L73.8,2.04 L74.0,2.13 L74.2,2.00 L74.4,2.16 L74.6,2.07 L74.8,2.27 L75.0,2.18 L75.2,1.87 L75.4,1.88 L75.6,2.46 L75.8,1.96 L76.0,2.25 L76.2,2.10 L76.4,1.84 L76.6,1.73 L76.8,1.96 L77.0,1.92 L77.2,1.98 L77.4,1.44 L77.6,1.72 L77.8,1.84 L78.0,2.29 L78.2,1.40 L78.4,2.13 L78.6,1.84 L78.8,2.03 L79.0,1.81 L79.2,1.96 L79.4,2.27 L79.6,1.97 L79.8,1.99 L80.0,1.90 L80.2,1.61 L80.4,1.93 L80.6,1.75 L80.8,1.67 L81.0,1.85 L81.2,1.74 L81.4,1.93 L81.6,1.71 L81.8,1.56 L82.0,2.12 L82.2,2.09 L82.4,2.14 L82.6,1.96 L82.8,1.81 L83.0,1.72 L83.2,1.76 L83.4,2.17 L83.6,1.99 L83.8,1.60 L84.0,1.91 L84.2,1.57 L84.4,1.87 L84.6,1.52 L84.8,1.41 L85.0,1.68 L85.2,1.60 L85.4,1.17 L85.6,1.72 L85.8,2.24 L86.0,1.43 L86.2,2.24 L86.4,1.65 L86.6,1.76 L86.8,1.81 L87.0,1.38 L87.2,2.03 L87.4,1.92 L87.6,1.67 L87.8,1.76 L88.0,1.55 L88.2,1.93 L88.4,2.17 L88.6,1.48 L88.8,1.77 L89.0,1.96 L89.2,2.10 L89.4,2.24 L89.6,1.83 L89.8,1.71 L90.0,2.00 L90.2,1.86 L90.4,1.89 L90.6,2.22 L90.8,2.37 L91.0,1.94 L91.2,1.77 L91.4,1.92 L91.6,1.36 L91.8,1.80 L92.0,1.60 L92.2,2.47 L92.4,2.11 L92.6,2.07 L92.8,2.15 L93.0,1.66 L93.2,2.38 L93.4,2.48 L93.6,1.78 L93.8,2.07 L94.0,2.04 L94.2,1.40 L94.4,2.01 L94.6,2.13 L94.8,1.87 L95.0,1.80 L95.2,2.07 L95.4,1.50 L95.6,1.90 L95.8,2.09 L96.0,1.48 L96.2,2.08 L96.4,1.68 L96.6,1.27 L96.8,1.78 L97.0,1.64 L97.2,1.91 L97.4,1.63 L97.6,2.22 L97.8,1.78 L98.0,2.15 L98.2,1.92 L98.4,2.08 L98.6,2.52 L98.8,2.32 L99.0,2.05 L99.2,1.80 L99.4,2.23 L99.6,2.05 L99.8,1.80 L100.0,1.94 L100.2,1.65 L100.4,1.71 L100.6,1.78 L100.8,2.03 L101.0,2.01 L101.2,1.68 L101.4,1.96 L101.6,1.96 L101.8,1.82 L102.0,2.01 L102.2,1.68 L102.4,1.83 L102.6,1.99 L102.8,1.91 L103.0,2.09 L103.2,1.58 L103.4,2.16 L103.6,1.61 L103.8,1.71 L104.0,1.44 L104.2,1.98 L104.4,2.15 L104.6,2.04 L104.8,1.90 L105.0,1.16 L105.2,1.14 L105.4,1.06 L105.6,1.01 L105.8,1.71 L106.0,1.68 L106.2,1.70 L106.4,1.88 L106.6,1.56 L106.8,1.56 L107.0,1.60 L107.2,1.95 L107.4,1.89 L107.6,1.99 L107.8,2.11 L108.0,1.50 L108.2,1.71 L108.4,1.89 L108.6,1.47 L108.8,1.66 L109.0,2.06 L109.2,2.07 L109.4,1.99 L109.6,1.75 L109.8,1.69 L110.0,2.01 L110.2,1.68 L110.4,2.04 L110.6,2.33 L110.8,1.95 L111.0,1.88 L111.2,1.96 L111.4,2.05 L111.6,1.99 L111.8,1.85 L112.0,1.93 L112.2,1.47 L112.4,1.61 L112.6,1.83 L112.8,1.57 L113.0,1.46 L113.2,1.46 L113.4,1.57 L113.6,1.69 L113.8,1.48 L114.0,1.72 L114.2,2.07 L114.4,1.62 L114.6,2.03 L114.8,1.80 L115.0,0.79 L115.2,1.07 L115.4,0.87 L115.6,1.29" fill="none" stroke="#ff00ff" stroke-width="1.7" stroke-linejoin="round"/></g>
<rect x="684.1" y="7.0" width="5.1" height="106.6" fill="#000"/>
<clipPath id="c2"><rect x="640" y="127.5" width="382" height="88.19999999999999"/></clipPath>
<g clip-path="url(#c2)"><g><text transform="translate(0,153.8) scale(1,1.95)" font-family="'Liberation Sans', Arial, sans-serif" font-size="44.4" fill="#000" stroke="#000" stroke-width="0.35" style="font-kerning:none"><tspan x="688.30 714.30 737.80">510</tspan><tspan x="762.5" font-size="26.6" dy="-24.4">th</tspan><tspan x="784.2568" dy="24.4"> charge</tspan></text></g>
<rect x="716.39" y="145.6" width="8.74" height="12.2" fill="#fff"/>
<rect x="729.54" y="145.6" width="8.38" height="12.2" fill="#fff"/>
</g>
<g clip-path="url(#bc)"><path transform="translate(686.0,175.4) scale(2.57,5.5)" d="M0.0,0.05 L0.2,0.53 L0.4,0.51 L0.6,-0.11 L0.8,-0.08 L1.0,-0.16 L1.2,0.31 L1.4,0.04 L1.6,0.27 L1.8,-0.74 L2.0,0.57 L2.2,-0.13 L2.4,0.20 L2.6,0.01 L2.8,-0.12 L3.0,0.32 L3.2,0.57 L3.4,0.13 L3.6,0.10 L3.8,0.53 L4.0,-0.17 L4.2,-0.41 L4.4,0.40 L4.6,-0.09 L4.8,-0.60 L5.0,-0.03 L5.2,0.07 L5.4,-0.17 L5.6,-0.23 L5.8,0.34 L6.0,0.69 L6.2,0.28 L6.4,0.03 L6.6,0.55 L6.8,0.75 L7.0,0.32 L7.2,0.62 L7.4,0.77 L7.6,0.26 L7.8,-0.05 L8.0,0.41 L8.2,0.39 L8.4,0.79 L8.6,-0.25 L8.8,0.10 L9.0,0.00 L9.2,-0.31 L9.4,0.51 L9.6,0.87 L9.8,0.42 L10.0,1.45 L10.2,1.24 L10.4,1.08 L10.6,0.82 L10.8,0.97 L11.0,0.02 L11.2,0.79 L11.4,0.78 L11.6,-0.21 L11.8,0.53 L12.0,0.12 L12.2,0.36 L12.4,-0.15 L12.6,0.09 L12.8,0.47 L13.0,0.24 L13.2,0.86 L13.4,0.50 L13.6,0.73 L13.8,0.34 L14.0,1.00 L14.2,0.91 L14.4,0.72 L14.6,1.07 L14.8,1.24 L15.0,1.30 L15.2,0.04 L15.4,0.96 L15.6,0.79 L15.8,0.75 L16.0,0.53 L16.2,1.55 L16.4,0.79 L16.6,1.53 L16.8,1.61 L17.0,0.38 L17.2,0.52 L17.4,-0.13 L17.6,0.28 L17.8,0.86 L18.0,1.21 L18.2,0.04 L18.4,0.57 L18.6,1.15 L18.8,1.40 L19.0,0.98 L19.2,0.57 L19.4,1.01 L19.6,0.86 L19.8,0.92 L20.0,0.74 L20.2,1.13 L20.4,1.14 L20.6,1.10 L20.8,0.98 L21.0,0.55 L21.2,0.79 L21.4,1.19 L21.6,0.56 L21.8,0.20 L22.0,1.34 L22.2,1.20 L22.4,1.87 L22.6,1.22 L22.8,1.03 L23.0,0.72 L23.2,1.65 L23.4,2.04 L23.6,0.87 L23.8,0.78 L24.0,1.04 L24.2,0.63 L24.4,0.94 L24.6,0.96 L24.8,1.28 L25.0,1.64 L25.2,1.28 L25.4,1.72 L25.6,1.52 L25.8,1.92 L26.0,1.18 L26.2,1.28 L26.4,1.85 L26.6,1.22 L26.8,1.54 L27.0,1.59 L27.2,1.85 L27.4,1.70 L27.6,1.85 L27.8,1.51 L28.0,1.21 L28.2,1.25 L28.4,1.31 L28.6,1.10 L28.8,1.30 L29.0,1.54 L29.2,1.69 L29.4,1.46 L29.6,0.99 L29.8,1.58 L30.0,1.62 L30.2,1.83 L30.4,1.78 L30.6,1.40 L30.8,1.32 L31.0,2.19 L31.2,1.82 L31.4,2.08 L31.6,2.12 L31.8,1.25 L32.0,1.64 L32.2,1.63 L32.4,1.64 L32.6,1.61 L32.8,1.51 L33.0,1.45 L33.2,0.94 L33.4,1.24 L33.6,0.96 L33.8,1.10 L34.0,0.80 L34.2,0.95 L34.4,0.88 L34.6,0.60 L34.8,0.47 L35.0,0.26 L35.2,-0.05 L35.4,0.04 L35.6,-0.07 L35.8,0.22 L36.0,0.24 L36.2,0.60 L36.4,0.16 L36.6,0.96 L36.8,0.64 L37.0,0.79 L37.2,1.13 L37.4,1.14 L37.6,1.56 L37.8,1.46 L38.0,1.42 L38.2,1.64 L38.4,2.51 L38.6,2.41 L38.8,2.23 L39.0,2.44 L39.2,1.74 L39.4,2.40 L39.6,1.36 L39.8,1.83 L40.0,1.89 L40.2,1.41 L40.4,1.85 L40.6,2.15 L40.8,2.04 L41.0,1.93 L41.2,2.18 L41.4,2.08 L41.6,2.00 L41.8,1.87 L42.0,2.07 L42.2,1.67 L42.4,2.05 L42.6,1.74 L42.8,1.65 L43.0,2.10 L43.2,2.40 L43.4,2.35 L43.6,2.17 L43.8,2.72 L44.0,2.49 L44.2,2.50 L44.4,2.35 L44.6,1.68 L44.8,2.07 L45.0,1.70 L45.2,1.70 L45.4,1.47 L45.6,1.40 L45.8,1.57 L46.0,1.92 L46.2,2.04 L46.4,1.50 L46.6,1.68 L46.8,1.45 L47.0,1.20 L47.2,1.88 L47.4,2.01 L47.6,1.78 L47.8,1.92 L48.0,2.07 L48.2,1.70 L48.4,1.57 L48.6,2.00 L48.8,2.04 L49.0,1.94 L49.2,2.24 L49.4,2.42 L49.6,1.88 L49.8,2.11 L50.0,2.12 L50.2,2.09 L50.4,2.20 L50.6,1.87 L50.8,2.18 L51.0,2.54 L51.2,2.33 L51.4,1.96 L51.6,2.27 L51.8,2.49 L52.0,2.27 L52.2,2.02 L52.4,2.68 L52.6,2.20 L52.8,2.72 L53.0,2.62 L53.2,2.20 L53.4,2.52 L53.6,2.16 L53.8,1.72 L54.0,2.08 L54.2,1.89 L54.4,1.65 L54.6,2.06 L54.8,2.42 L55.0,2.51 L55.2,2.28 L55.4,2.08 L55.6,2.11 L55.8,1.91 L56.0,2.29 L56.2,1.97 L56.4,1.91 L56.6,1.76 L56.8,1.19 L57.0,1.28 L57.2,1.94 L57.4,1.86 L57.6,1.85 L57.8,2.07 L58.0,1.84 L58.2,2.13 L58.4,1.86 L58.6,2.12 L58.8,1.71 L59.0,2.54 L59.2,2.19 L59.4,2.10 L59.6,2.48 L59.8,2.28 L60.0,2.23 L60.2,1.74 L60.4,2.05 L60.6,2.73 L60.8,1.55 L61.0,1.88 L61.2,1.68 L61.4,1.58 L61.6,0.90 L61.8,1.04 L62.0,1.52 L62.2,1.54 L62.4,2.13 L62.6,1.67 L62.8,1.93 L63.0,2.70 L63.2,1.84 L63.4,1.91 L63.6,2.18 L63.8,2.16 L64.0,2.32 L64.2,2.27 L64.4,1.98 L64.6,2.14 L64.8,2.71 L65.0,2.32 L65.2,1.27 L65.4,1.90 L65.6,1.75 L65.8,2.12 L66.0,1.94 L66.2,2.48 L66.4,2.21 L66.6,2.22 L66.8,1.99 L67.0,2.00 L67.2,2.10 L67.4,2.53 L67.6,2.52 L67.8,2.47 L68.0,2.81 L68.2,2.40 L68.4,2.12 L68.6,1.76 L68.8,1.73 L69.0,1.68 L69.2,1.07 L69.4,1.80 L69.6,1.53 L69.8,1.33 L70.0,1.74 L70.2,1.79 L70.4,1.94 L70.6,1.38 L70.8,1.93 L71.0,2.05 L71.2,2.32 L71.4,2.41 L71.6,2.29 L71.8,1.72 L72.0,1.54 L72.2,2.21 L72.4,2.12 L72.6,2.38 L72.8,2.03 L73.0,2.08 L73.2,1.66 L73.4,2.07 L73.6,1.83 L73.8,2.08 L74.0,2.17 L74.2,2.04 L74.4,2.20 L74.6,2.11 L74.8,2.31 L75.0,2.22 L75.2,1.92 L75.4,1.92 L75.6,2.51 L75.8,2.01 L76.0,2.30 L76.2,2.15 L76.4,1.89 L76.6,1.78 L76.8,2.02 L77.0,1.97 L77.2,2.04 L77.4,1.50 L77.6,1.78 L77.8,1.90 L78.0,2.35 L78.2,1.46 L78.4,2.20 L78.6,1.91 L78.8,2.10 L79.0,1.88 L79.2,2.03 L79.4,2.34 L79.6,2.04 L79.8,2.06 L80.0,1.97 L80.2,1.68 L80.4,2.00 L80.6,1.83 L80.8,1.74 L81.0,1.92 L81.2,1.82 L81.4,2.01 L81.6,1.80 L81.8,1.64 L82.0,2.20 L82.2,2.18 L82.4,2.22 L82.6,2.05 L82.8,1.90 L83.0,1.81 L83.2,1.85 L83.4,2.26 L83.6,2.08 L83.8,1.70 L84.0,2.01 L84.2,1.66 L84.4,1.97 L84.6,1.61 L84.8,1.50 L85.0,1.78 L85.2,1.70 L85.4,1.27 L85.6,1.82 L85.8,2.34 L86.0,1.53 L86.2,2.34 L86.4,1.75 L86.6,1.86 L86.8,1.91 L87.0,1.48 L87.2,2.14 L87.4,2.03 L87.6,1.78 L87.8,1.87 L88.0,1.66 L88.2,2.03 L88.4,2.28 L88.6,1.59 L88.8,1.88 L89.0,2.07 L89.2,2.21 L89.4,2.35 L89.6,1.94 L89.8,1.83 L90.0,2.11 L90.2,1.97 L90.4,2.00 L90.6,2.34 L90.8,2.49 L91.0,2.06 L91.2,1.89 L91.4,2.04 L91.6,1.48 L91.8,1.92 L92.0,1.72 L92.2,2.59 L92.4,2.23 L92.6,2.19 L92.8,2.28 L93.0,1.78 L93.2,2.51 L93.4,2.61 L93.6,1.90 L93.8,2.20 L94.0,2.16 L94.2,1.53 L94.4,2.14 L94.6,2.25 L94.8,2.00 L95.0,1.93 L95.2,2.20 L95.4,1.63 L95.6,2.03 L95.8,2.22 L96.0,1.61 L96.2,2.21 L96.4,1.81 L96.6,1.40 L96.8,1.92 L97.0,1.78 L97.2,2.05 L97.4,1.77 L97.6,2.36 L97.8,1.92 L98.0,2.29 L98.2,2.06 L98.4,2.22 L98.6,2.66 L98.8,2.47 L99.0,2.19 L99.2,1.95 L99.4,2.38 L99.6,2.19 L99.8,1.95 L100.0,2.09 L100.2,1.79 L100.4,1.86 L100.6,1.93 L100.8,2.18 L101.0,2.16 L101.2,1.83 L101.4,2.11 L101.6,2.12 L101.8,1.97 L102.0,2.17 L102.2,1.84 L102.4,1.98 L102.6,2.15 L102.8,2.06 L103.0,2.25 L103.2,1.74 L103.4,2.32 L103.6,1.77 L103.8,1.87 L104.0,1.60 L104.2,2.14 L104.4,2.31 L104.6,2.20 L104.8,2.06 L105.0,1.33 L105.2,1.31 L105.4,1.22 L105.6,1.18 L105.8,1.88 L106.0,1.84 L106.2,1.86 L106.4,2.05 L106.6,1.73 L106.8,1.73 L107.0,1.77 L107.2,2.12 L107.4,2.06 L107.6,2.16 L107.8,2.28 L108.0,1.68 L108.2,1.88 L108.4,2.06 L108.6,1.64 L108.8,1.84 L109.0,2.23 L109.2,2.25 L109.4,2.17 L109.6,1.92 L109.8,1.87 L110.0,2.19 L110.2,1.86 L110.4,2.22 L110.6,2.51 L110.8,2.14 L111.0,2.07 L111.2,2.14 L111.4,2.23 L111.6,2.18 L111.8,2.04 L112.0,2.12 L112.2,1.66 L112.4,1.79 L112.6,2.02 L112.8,1.76 L113.0,1.65 L113.2,1.65 L113.4,1.76 L113.6,1.88 L113.8,1.67 L114.0,1.91 L114.2,2.26 L114.4,1.82 L114.6,2.23 L114.8,1.99 L115.0,1.71 L115.2,1.99 L115.4,1.80 L115.6,2.22" fill="none" stroke="#008080" stroke-width="1.7" stroke-linejoin="round"/></g>
<rect x="682.8" y="127.5" width="5.2" height="88.19999999999999" fill="#000"/>
<clipPath id="c3"><rect x="640" y="215.7" width="382" height="101.69999999999999"/></clipPath>
<g clip-path="url(#c3)"><g><text transform="translate(0,241.5) scale(1,2.5)" font-family="'Liberation Sans', Arial, sans-serif" font-size="43.2" fill="#000" stroke="#000" stroke-width="0.35" style="font-kerning:none"><tspan x="692.20 713.40">16</tspan><tspan x="737.4" font-size="25.9" dy="-23.8">th</tspan><tspan x="758.1904000000001" dy="23.8"> discharge</tspan></text></g>
<rect x="694.24" y="231.0" width="8.51" height="14.5" fill="#fff"/>
<rect x="707.02" y="231.0" width="8.15" height="14.5" fill="#fff"/>
</g>
<g clip-path="url(#bc)"><path transform="translate(686.0,279.5) scale(2.57,5.5)" d="M0.0,0.06 L0.2,0.58 L0.4,0.55 L0.6,-0.12 L0.8,-0.10 L1.0,-0.18 L1.2,0.33 L1.4,0.04 L1.6,0.29 L1.8,-0.82 L2.0,0.62 L2.2,-0.15 L2.4,0.21 L2.6,-0.00 L2.8,-0.14 L3.0,0.34 L3.2,0.61 L3.4,0.13 L3.6,0.10 L3.8,0.57 L4.0,-0.20 L4.2,-0.46 L4.4,0.42 L4.6,-0.12 L4.8,-0.67 L5.0,-0.05 L5.2,0.06 L5.4,-0.21 L5.6,-0.28 L5.8,0.35 L6.0,0.73 L6.2,0.28 L6.4,0.01 L6.6,0.58 L6.8,0.79 L7.0,0.32 L7.2,0.65 L7.4,0.82 L7.6,0.25 L7.8,-0.09 L8.0,0.41 L8.2,0.39 L8.4,0.83 L8.6,-0.31 L8.8,0.07 L9.0,-0.04 L9.2,-0.38 L9.4,0.52 L9.6,0.91 L9.8,0.41 L10.0,1.55 L10.2,1.32 L10.4,1.14 L10.6,0.85 L10.8,1.02 L11.0,-0.03 L11.2,0.81 L11.4,0.80 L11.6,-0.29 L11.8,0.53 L12.0,0.08 L12.2,0.34 L12.4,-0.22 L12.6,0.04 L12.8,0.46 L13.0,0.21 L13.2,0.88 L13.4,0.49 L13.6,0.74 L13.8,0.31 L14.0,1.03 L14.2,0.93 L14.4,0.72 L14.6,1.11 L14.8,1.29 L15.0,1.35 L15.2,-0.02 L15.4,0.98 L15.6,0.79 L15.8,0.74 L16.0,0.51 L16.2,1.63 L16.4,0.79 L16.6,1.60 L16.8,1.68 L17.0,0.34 L17.2,0.49 L17.4,-0.22 L17.6,0.23 L17.8,0.85 L18.0,1.24 L18.2,-0.04 L18.4,0.53 L18.6,1.17 L18.8,1.45 L19.0,0.99 L19.2,0.53 L19.4,1.02 L19.6,0.85 L19.8,0.92 L20.0,0.72 L20.2,1.14 L20.4,1.15 L20.6,1.10 L20.8,0.98 L21.0,0.50 L21.2,0.76 L21.4,1.21 L21.6,0.51 L21.8,0.12 L22.0,1.36 L22.2,1.21 L22.4,1.94 L22.6,1.23 L22.8,1.02 L23.0,0.68 L23.2,1.70 L23.4,2.12 L23.6,0.84 L23.8,0.74 L24.0,1.03 L24.2,0.58 L24.4,0.91 L24.6,0.94 L24.8,1.29 L25.0,1.68 L25.2,1.28 L25.4,1.77 L25.6,1.54 L25.8,1.98 L26.0,1.16 L26.2,1.28 L26.4,1.90 L26.6,1.21 L26.8,1.56 L27.0,1.62 L27.2,1.90 L27.4,1.73 L27.6,1.89 L27.8,1.52 L28.0,1.20 L28.2,1.23 L28.4,1.30 L28.6,1.07 L28.8,1.30 L29.0,1.56 L29.2,1.72 L29.4,1.47 L29.6,0.95 L29.8,1.60 L30.0,1.65 L30.2,1.89 L30.4,1.83 L30.6,1.41 L30.8,1.32 L31.0,2.27 L31.2,1.87 L31.4,2.16 L31.6,2.21 L31.8,1.26 L32.0,1.70 L32.2,1.70 L32.4,1.73 L32.6,1.73 L32.8,1.64 L33.0,1.62 L33.2,1.11 L33.4,1.50 L33.6,1.24 L33.8,1.45 L34.0,1.16 L34.2,1.36 L34.4,1.30 L34.6,0.98 L34.8,0.81 L35.0,0.56 L35.2,0.20 L35.4,0.28 L35.6,0.16 L35.8,0.49 L36.0,0.54 L36.2,0.96 L36.4,0.51 L36.6,1.39 L36.8,1.04 L37.0,1.17 L37.2,1.51 L37.4,1.47 L37.6,1.88 L37.8,1.71 L38.0,1.62 L38.2,1.83 L38.4,2.75 L38.6,2.61 L38.8,2.39 L39.0,2.62 L39.2,1.83 L39.4,2.55 L39.6,1.41 L39.8,1.93 L40.0,1.99 L40.2,1.47 L40.4,1.94 L40.6,2.28 L40.8,2.15 L41.0,2.04 L41.2,2.31 L41.4,2.20 L41.6,2.12 L41.8,1.97 L42.0,2.19 L42.2,1.75 L42.4,2.17 L42.6,1.83 L42.8,1.73 L43.0,2.22 L43.2,2.55 L43.4,2.50 L43.6,2.30 L43.8,2.90 L44.0,2.65 L44.2,2.66 L44.4,2.50 L44.6,1.77 L44.8,2.19 L45.0,1.78 L45.2,1.78 L45.4,1.53 L45.6,1.46 L45.8,1.64 L46.0,2.03 L46.2,2.16 L46.4,1.57 L46.6,1.76 L46.8,1.51 L47.0,1.24 L47.2,1.99 L47.4,2.12 L47.6,1.87 L47.8,2.03 L48.0,2.19 L48.2,1.78 L48.4,1.65 L48.6,2.11 L48.8,2.15 L49.0,2.05 L49.2,2.37 L49.4,2.58 L49.6,1.99 L49.8,2.24 L50.0,2.24 L50.2,2.21 L50.4,2.33 L50.6,1.97 L50.8,2.31 L51.0,2.71 L51.2,2.48 L51.4,2.07 L51.6,2.41 L51.8,2.64 L52.0,2.41 L52.2,2.14 L52.4,2.85 L52.6,2.33 L52.8,2.90 L53.0,2.79 L53.2,2.33 L53.4,2.69 L53.6,2.29 L53.8,1.81 L54.0,2.20 L54.2,1.99 L54.4,1.73 L54.6,2.18 L54.8,2.57 L55.0,2.67 L55.2,2.42 L55.4,2.20 L55.6,2.24 L55.8,2.02 L56.0,2.43 L56.2,2.07 L56.4,2.01 L56.6,1.84 L56.8,1.23 L57.0,1.32 L57.2,2.04 L57.4,1.96 L57.6,1.94 L57.8,2.19 L58.0,1.94 L58.2,2.25 L58.4,1.96 L58.6,2.24 L58.8,1.80 L59.0,2.70 L59.2,2.32 L59.4,2.22 L59.6,2.64 L59.8,2.42 L60.0,2.36 L60.2,1.83 L60.4,2.16 L60.6,2.91 L60.8,1.62 L61.0,1.98 L61.2,1.76 L61.4,1.66 L61.6,0.91 L61.8,1.06 L62.0,1.59 L62.2,1.61 L62.4,2.26 L62.6,1.75 L62.8,2.03 L63.0,2.88 L63.2,1.94 L63.4,2.01 L63.6,2.31 L63.8,2.29 L64.0,2.46 L64.2,2.41 L64.4,2.08 L64.6,2.26 L64.8,2.88 L65.0,2.45 L65.2,1.31 L65.4,2.00 L65.6,1.83 L65.8,2.24 L66.0,2.04 L66.2,2.62 L66.4,2.33 L66.6,2.34 L66.8,2.08 L67.0,2.10 L67.2,2.20 L67.4,2.67 L67.6,2.67 L67.8,2.61 L68.0,2.98 L68.2,2.53 L68.4,2.22 L68.6,1.82 L68.8,1.80 L69.0,1.73 L69.2,1.06 L69.4,1.86 L69.6,1.57 L69.8,1.35 L70.0,1.80 L70.2,1.85 L70.4,2.01 L70.6,1.41 L70.8,2.01 L71.0,2.13 L71.2,2.43 L71.4,2.52 L71.6,2.39 L71.8,1.77 L72.0,1.57 L72.2,2.30 L72.4,2.20 L72.6,2.49 L72.8,2.10 L73.0,2.15 L73.2,1.70 L73.4,2.14 L73.6,1.88 L73.8,2.15 L74.0,2.25 L74.2,2.10 L74.4,2.28 L74.6,2.18 L74.8,2.40 L75.0,2.30 L75.2,1.97 L75.4,1.97 L75.6,2.61 L75.8,2.06 L76.0,2.38 L76.2,2.22 L76.4,1.93 L76.6,1.81 L76.8,2.07 L77.0,2.02 L77.2,2.09 L77.4,1.50 L77.6,1.81 L77.8,1.93 L78.0,2.43 L78.2,1.45 L78.4,2.26 L78.6,1.94 L78.8,2.15 L79.0,1.90 L79.2,2.07 L79.4,2.41 L79.6,2.08 L79.8,2.10 L80.0,2.01 L80.2,1.69 L80.4,2.04 L80.6,1.85 L80.8,1.75 L81.0,1.95 L81.2,1.84 L81.4,2.04 L81.6,1.80 L81.8,1.64 L82.0,2.25 L82.2,2.22 L82.4,2.27 L82.6,2.07 L82.8,1.91 L83.0,1.82 L83.2,1.86 L83.4,2.31 L83.6,2.11 L83.8,1.68 L84.0,2.03 L84.2,1.65 L84.4,1.98 L84.6,1.59 L84.8,1.47 L85.0,1.77 L85.2,1.68 L85.4,1.21 L85.6,1.82 L85.8,2.39 L86.0,1.50 L86.2,2.39 L86.4,1.74 L86.6,1.86 L86.8,1.91 L87.0,1.44 L87.2,2.15 L87.4,2.04 L87.6,1.76 L87.8,1.86 L88.0,1.63 L88.2,2.04 L88.4,2.31 L88.6,1.55 L88.8,1.87 L89.0,2.08 L89.2,2.23 L89.4,2.39 L89.6,1.94 L89.8,1.81 L90.0,2.12 L90.2,1.97 L90.4,2.00 L90.6,2.37 L90.8,2.53 L91.0,2.06 L91.2,1.87 L91.4,2.04 L91.6,1.42 L91.8,1.90 L92.0,1.69 L92.2,2.63 L92.4,2.24 L92.6,2.20 L92.8,2.29 L93.0,1.75 L93.2,2.54 L93.4,2.65 L93.6,1.88 L93.8,2.20 L94.0,2.16 L94.2,1.47 L94.4,2.14 L94.6,2.26 L94.8,1.98 L95.0,1.90 L95.2,2.20 L95.4,1.57 L95.6,2.02 L95.8,2.22 L96.0,1.55 L96.2,2.21 L96.4,1.77 L96.6,1.32 L96.8,1.88 L97.0,1.73 L97.2,2.03 L97.4,1.72 L97.6,2.36 L97.8,1.88 L98.0,2.29 L98.2,2.04 L98.4,2.21 L98.6,2.69 L98.8,2.48 L99.0,2.18 L99.2,1.91 L99.4,2.38 L99.6,2.17 L99.8,1.91 L100.0,2.06 L100.2,1.74 L100.4,1.80 L100.6,1.89 L100.8,2.16 L101.0,2.13 L101.2,1.78 L101.4,2.08 L101.6,2.09 L101.8,1.93 L102.0,2.14 L102.2,1.78 L102.4,1.94 L102.6,2.12 L102.8,2.02 L103.0,2.23 L103.2,1.66 L103.4,2.30 L103.6,1.70 L103.8,1.81 L104.0,1.51 L104.2,2.10 L104.4,2.29 L104.6,2.17 L104.8,2.02 L105.0,1.21 L105.2,1.19 L105.4,1.09 L105.6,1.04 L105.8,1.81 L106.0,1.77 L106.2,1.79 L106.4,2.00 L106.6,1.64 L106.8,1.65 L107.0,1.68 L107.2,2.08 L107.4,2.01 L107.6,2.12 L107.8,2.24 L108.0,1.58 L108.2,1.81 L108.4,2.01 L108.6,1.55 L108.8,1.76 L109.0,2.19 L109.2,2.20 L109.4,2.12 L109.6,1.85 L109.8,1.78 L110.0,2.14 L110.2,1.77 L110.4,2.17 L110.6,2.49 L110.8,2.08 L111.0,2.00 L111.2,2.08 L111.4,2.18 L111.6,2.12 L111.8,1.96 L112.0,2.06 L112.2,1.55 L112.4,1.70 L112.6,1.94 L112.8,1.66 L113.0,1.54 L113.2,1.54 L113.4,1.66 L113.6,1.78 L113.8,1.56 L114.0,1.82 L114.2,2.20 L114.4,1.72 L114.6,2.16 L114.8,1.91 L115.0,0.87 L115.2,1.17 L115.4,0.96 L115.6,1.43" fill="none" stroke="#ff0000" stroke-width="1.9" stroke-linejoin="round"/></g>
<rect x="685.2" y="215.7" width="5.0" height="101.69999999999999" fill="#000"/>
<clipPath id="c4"><rect x="640" y="320.6" width="382" height="113.59999999999997"/></clipPath>
<g clip-path="url(#c4)"><g><text transform="translate(0,341.8) scale(1,2.65)" font-family="'Liberation Sans', Arial, sans-serif" font-size="43.5" fill="#000" stroke="#000" stroke-width="0.35" style="font-kerning:none"><tspan x="692.70 715.40">15</tspan><tspan x="739.6" font-size="26.1" dy="-23.9">th</tspan><tspan x="761.307" dy="23.9"> charge</tspan></text></g>
<rect x="694.75" y="330.7" width="8.57" height="15.1" fill="#fff"/>
<rect x="707.63" y="330.7" width="8.21" height="15.1" fill="#fff"/>
</g>
<g clip-path="url(#bc)"><path transform="translate(686.0,394.3) scale(2.57,5.5)" d="M0.0,0.06 L0.2,0.63 L0.4,0.60 L0.6,-0.13 L0.8,-0.11 L1.0,-0.20 L1.2,0.36 L1.4,0.04 L1.6,0.31 L1.8,-0.90 L2.0,0.66 L2.2,-0.17 L2.4,0.22 L2.6,-0.01 L2.8,-0.17 L3.0,0.36 L3.2,0.65 L3.4,0.13 L3.6,0.10 L3.8,0.60 L4.0,-0.23 L4.2,-0.52 L4.4,0.45 L4.6,-0.15 L4.8,-0.75 L5.0,-0.07 L5.2,0.05 L5.4,-0.24 L5.6,-0.32 L5.8,0.37 L6.0,0.78 L6.2,0.29 L6.4,-0.00 L6.6,0.62 L6.8,0.85 L7.0,0.35 L7.2,0.71 L7.4,0.89 L7.6,0.27 L7.8,-0.10 L8.0,0.45 L8.2,0.43 L8.4,0.91 L8.6,-0.33 L8.8,0.09 L9.0,-0.03 L9.2,-0.39 L9.4,0.58 L9.6,1.01 L9.8,0.47 L10.0,1.70 L10.2,1.45 L10.4,1.27 L10.6,0.96 L10.8,1.14 L11.0,0.00 L11.2,0.92 L11.4,0.90 L11.6,-0.28 L11.8,0.62 L12.0,0.12 L12.2,0.41 L12.4,-0.20 L12.6,0.09 L12.8,0.55 L13.0,0.28 L13.2,1.01 L13.4,0.58 L13.6,0.86 L13.8,0.39 L14.0,1.18 L14.2,1.07 L14.4,0.84 L14.6,1.27 L14.8,1.47 L15.0,1.54 L15.2,0.05 L15.4,1.14 L15.6,0.93 L15.8,0.88 L16.0,0.63 L16.2,1.85 L16.4,0.94 L16.6,1.82 L16.8,1.91 L17.0,0.45 L17.2,0.62 L17.4,-0.15 L17.6,0.34 L17.8,1.02 L18.0,1.44 L18.2,0.05 L18.4,0.68 L18.6,1.37 L18.8,1.68 L19.0,1.18 L19.2,0.69 L19.4,1.21 L19.6,1.03 L19.8,1.11 L20.0,0.90 L20.2,1.36 L20.4,1.36 L20.6,1.32 L20.8,1.18 L21.0,0.67 L21.2,0.95 L21.4,1.44 L21.6,0.68 L21.8,0.26 L22.0,1.61 L22.2,1.44 L22.4,2.25 L22.6,1.47 L22.8,1.25 L23.0,0.88 L23.2,1.99 L23.4,2.45 L23.6,1.06 L23.8,0.95 L24.0,1.27 L24.2,0.78 L24.4,1.15 L24.6,1.17 L24.8,1.56 L25.0,1.98 L25.2,1.55 L25.4,2.08 L25.6,1.84 L25.8,2.31 L26.0,1.43 L26.2,1.56 L26.4,2.24 L26.6,1.49 L26.8,1.87 L27.0,1.93 L27.2,2.24 L27.4,2.06 L27.6,2.24 L27.8,1.83 L28.0,1.48 L28.2,1.52 L28.4,1.60 L28.6,1.35 L28.8,1.59 L29.0,1.88 L29.2,2.06 L29.4,1.78 L29.6,1.22 L29.8,1.93 L30.0,1.98 L30.2,2.23 L30.4,2.18 L30.6,1.72 L30.8,1.63 L31.0,2.66 L31.2,2.22 L31.4,2.54 L31.6,2.59 L31.8,1.55 L32.0,2.03 L32.2,2.03 L32.4,2.06 L32.6,2.05 L32.8,1.94 L33.0,1.90 L33.2,1.30 L33.4,1.65 L33.6,1.26 L33.8,1.32 L34.0,0.78 L34.2,0.71 L34.4,0.29 L34.6,-0.43 L34.8,-1.00 L35.0,-1.62 L35.2,-2.28 L35.4,-2.36 L35.6,-2.50 L35.8,-2.02 L36.0,-1.72 L36.2,-0.93 L36.4,-1.04 L36.6,0.31 L36.8,0.28 L37.0,0.72 L37.2,1.33 L37.4,1.47 L37.6,2.04 L37.8,1.94 L38.0,1.89 L38.2,2.14 L38.4,3.16 L38.6,3.02 L38.8,2.78 L39.0,3.03 L39.2,2.18 L39.4,2.96 L39.6,1.72 L39.8,2.28 L40.0,2.35 L40.2,1.78 L40.4,2.30 L40.6,2.66 L40.8,2.53 L41.0,2.40 L41.2,2.69 L41.4,2.58 L41.6,2.49 L41.8,2.32 L42.0,2.56 L42.2,2.09 L42.4,2.55 L42.6,2.17 L42.8,2.06 L43.0,2.60 L43.2,2.96 L43.4,2.90 L43.6,2.68 L43.8,3.34 L44.0,3.06 L44.2,3.08 L44.4,2.90 L44.6,2.11 L44.8,2.57 L45.0,2.12 L45.2,2.12 L45.4,1.85 L45.6,1.77 L45.8,1.97 L46.0,2.39 L46.2,2.53 L46.4,1.89 L46.6,2.10 L46.8,1.83 L47.0,1.53 L47.2,2.34 L47.4,2.49 L47.6,2.21 L47.8,2.39 L48.0,2.56 L48.2,2.12 L48.4,1.97 L48.6,2.48 L48.8,2.52 L49.0,2.41 L49.2,2.76 L49.4,2.98 L49.6,2.34 L49.8,2.62 L50.0,2.62 L50.2,2.58 L50.4,2.72 L50.6,2.32 L50.8,2.69 L51.0,3.13 L51.2,2.87 L51.4,2.44 L51.6,2.81 L51.8,3.06 L52.0,2.80 L52.2,2.50 L52.4,3.28 L52.6,2.72 L52.8,3.34 L53.0,3.22 L53.2,2.72 L53.4,3.10 L53.6,2.67 L53.8,2.15 L54.0,2.58 L54.2,2.35 L54.4,2.07 L54.6,2.55 L54.8,2.98 L55.0,3.08 L55.2,2.81 L55.4,2.58 L55.6,2.61 L55.8,2.38 L56.0,2.83 L56.2,2.44 L56.4,2.37 L56.6,2.19 L56.8,1.52 L57.0,1.62 L57.2,2.40 L57.4,2.32 L57.6,2.30 L57.8,2.56 L58.0,2.29 L58.2,2.63 L58.4,2.31 L58.6,2.61 L58.8,2.13 L59.0,3.12 L59.2,2.70 L59.4,2.60 L59.6,3.05 L59.8,2.81 L60.0,2.75 L60.2,2.17 L60.4,2.53 L60.6,3.35 L60.8,1.94 L61.0,2.34 L61.2,2.10 L61.4,1.98 L61.6,1.17 L61.8,1.33 L62.0,1.91 L62.2,1.93 L62.4,2.64 L62.6,2.09 L62.8,2.39 L63.0,3.31 L63.2,2.29 L63.4,2.37 L63.6,2.69 L63.8,2.67 L64.0,2.86 L64.2,2.80 L64.4,2.45 L64.6,2.65 L64.8,3.32 L65.0,2.86 L65.2,1.61 L65.4,2.36 L65.6,2.18 L65.8,2.62 L66.0,2.41 L66.2,3.05 L66.4,2.72 L66.6,2.73 L66.8,2.46 L67.0,2.48 L67.2,2.59 L67.4,3.10 L67.6,3.10 L67.8,3.04 L68.0,3.45 L68.2,2.95 L68.4,2.62 L68.6,2.19 L68.8,2.16 L69.0,2.09 L69.2,1.36 L69.4,2.23 L69.6,1.91 L69.8,1.68 L70.0,2.17 L70.2,2.23 L70.4,2.40 L70.6,1.74 L70.8,2.40 L71.0,2.54 L71.2,2.86 L71.4,2.96 L71.6,2.82 L71.8,2.14 L72.0,1.93 L72.2,2.73 L72.4,2.62 L72.6,2.93 L72.8,2.51 L73.0,2.57 L73.2,2.08 L73.4,2.56 L73.6,2.27 L73.8,2.57 L74.0,2.67 L74.2,2.52 L74.4,2.71 L74.6,2.61 L74.8,2.85 L75.0,2.74 L75.2,2.38 L75.4,2.39 L75.6,3.08 L75.8,2.49 L76.0,2.83 L76.2,2.65 L76.4,2.35 L76.6,2.21 L76.8,2.49 L77.0,2.44 L77.2,2.52 L77.4,1.88 L77.6,2.22 L77.8,2.36 L78.0,2.89 L78.2,1.84 L78.4,2.71 L78.6,2.36 L78.8,2.60 L79.0,2.33 L79.2,2.51 L79.4,2.88 L79.6,2.52 L79.8,2.54 L80.0,2.44 L80.2,2.10 L80.4,2.48 L80.6,2.27 L80.8,2.17 L81.0,2.39 L81.2,2.27 L81.4,2.49 L81.6,2.23 L81.8,2.05 L82.0,2.72 L82.2,2.69 L82.4,2.74 L82.6,2.53 L82.8,2.35 L83.0,2.25 L83.2,2.30 L83.4,2.79 L83.6,2.57 L83.8,2.11 L84.0,2.49 L84.2,2.07 L84.4,2.44 L84.6,2.02 L84.8,1.88 L85.0,2.21 L85.2,2.11 L85.4,1.61 L85.6,2.27 L85.8,2.88 L86.0,1.92 L86.2,2.89 L86.4,2.18 L86.6,2.32 L86.8,2.37 L87.0,1.86 L87.2,2.64 L87.4,2.51 L87.6,2.21 L87.8,2.32 L88.0,2.07 L88.2,2.52 L88.4,2.81 L88.6,1.99 L88.8,2.33 L89.0,2.57 L89.2,2.73 L89.4,2.90 L89.6,2.41 L89.8,2.27 L90.0,2.61 L90.2,2.44 L90.4,2.48 L90.6,2.88 L90.8,3.06 L91.0,2.54 L91.2,2.34 L91.4,2.52 L91.6,1.85 L91.8,2.38 L92.0,2.14 L92.2,3.18 L92.4,2.75 L92.6,2.70 L92.8,2.81 L93.0,2.22 L93.2,3.08 L93.4,3.20 L93.6,2.36 L93.8,2.71 L94.0,2.67 L94.2,1.92 L94.4,2.64 L94.6,2.78 L94.8,2.48 L95.0,2.39 L95.2,2.72 L95.4,2.04 L95.6,2.52 L95.8,2.74 L96.0,2.01 L96.2,2.73 L96.4,2.25 L96.6,1.76 L96.8,2.38 L97.0,2.21 L97.2,2.53 L97.4,2.20 L97.6,2.90 L97.8,2.38 L98.0,2.82 L98.2,2.55 L98.4,2.73 L98.6,3.26 L98.8,3.03 L99.0,2.70 L99.2,2.41 L99.4,2.93 L99.6,2.70 L99.8,2.41 L100.0,2.58 L100.2,2.23 L100.4,2.30 L100.6,2.40 L100.8,2.69 L101.0,2.66 L101.2,2.28 L101.4,2.61 L101.6,2.61 L101.8,2.44 L102.0,2.68 L102.2,2.28 L102.4,2.46 L102.6,2.65 L102.8,2.55 L103.0,2.77 L103.2,2.16 L103.4,2.85 L103.6,2.20 L103.8,2.33 L104.0,1.99 L104.2,2.64 L104.4,2.85 L104.6,2.71 L104.8,2.55 L105.0,1.67 L105.2,1.65 L105.4,1.55 L105.6,1.50 L105.8,2.33 L106.0,2.29 L106.2,2.31 L106.4,2.54 L106.6,2.15 L106.8,2.16 L107.0,2.20 L107.2,2.62 L107.4,2.55 L107.6,2.67 L107.8,2.81 L108.0,2.09 L108.2,2.34 L108.4,2.55 L108.6,2.05 L108.8,2.29 L109.0,2.76 L109.2,2.77 L109.4,2.68 L109.6,2.39 L109.8,2.32 L110.0,2.70 L110.2,2.31 L110.4,2.74 L110.6,3.09 L110.8,2.64 L111.0,2.56 L111.2,2.64 L111.4,2.75 L111.6,2.69 L111.8,2.52 L112.0,2.62 L112.2,2.07 L112.4,2.23 L112.6,2.50 L112.8,2.19 L113.0,2.06 L113.2,2.07 L113.4,2.19 L113.6,2.33 L113.8,2.09 L114.0,2.37 L114.2,2.79 L114.4,2.26 L114.6,2.74 L114.8,2.47 L115.0,2.13 L115.2,2.46 L115.4,2.23 L115.6,2.74" fill="none" stroke="#0000ff" stroke-width="2.2" stroke-linejoin="round"/></g>
<rect x="684.2" y="320.6" width="4.8" height="113.59999999999997" fill="#000"/>
</svg>
<p class="cap"><span class="l j" style="left:37.6px;top:395.1px;width:543.7px"><b>Figure 9. XRD pattern of Al@TiO<sub>2</sub> anode after cycling.</b> As cycling increases, the Al FCC</span>
<span class="l j" style="left:94.8px;top:414.5px;width:486.5px">diffraction peaks at 38<sup>o</sup>, 44<sup>o</sup>, 65<sup>o</sup> and 78<sup>o</sup> decrease, which indicates the aluminum</span>
<span class="l" style="left:94.8px;top:434.1px">inside likely has turned amorphous.</span></p>
</body>
</html>
